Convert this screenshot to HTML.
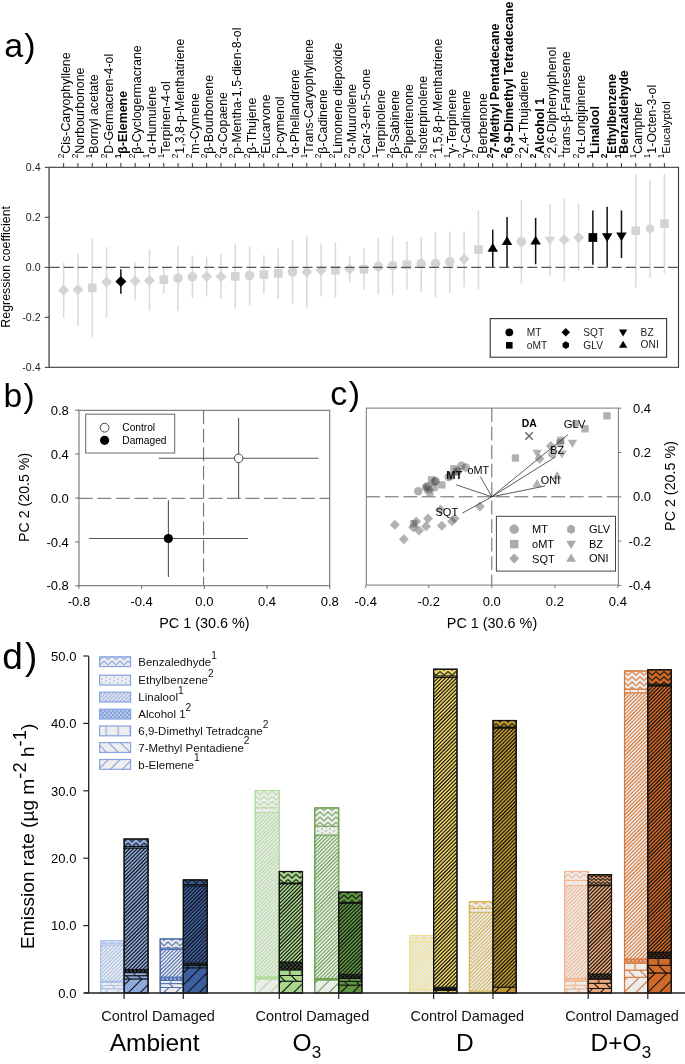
<!DOCTYPE html>
<html><head><meta charset="utf-8"><title>Figure</title>
<style>html,body{margin:0;padding:0;background:#fff;}body{width:685px;height:1064px;overflow:hidden;font-family:"Liberation Sans",sans-serif;}svg{display:block;will-change:transform;}</style>
</head><body>
<svg width="685" height="1064" viewBox="0 0 685 1064" font-family='"Liberation Sans", sans-serif'>
<rect width="685" height="1064" fill="#fff"/>
<text x="4.2" y="56.8" font-size="34">a<tspan dx="1.1">)</tspan></text>
<text transform="translate(69.85,158.3) rotate(-90)"><tspan font-size="8.4" dy="-6.2">2</tspan><tspan font-size="12.4" dy="6.2">Cis-Caryophyllene</tspan></text>
<text transform="translate(84.15,158.3) rotate(-90)"><tspan font-size="8.4" dy="-6.2">2</tspan><tspan font-size="12.4" dy="6.2">Norbourbonone</tspan></text>
<text transform="translate(98.46,158.3) rotate(-90)"><tspan font-size="8.4" dy="-6.2">1</tspan><tspan font-size="12.4" dy="6.2">Bornyl acetate</tspan></text>
<text transform="translate(112.76,158.3) rotate(-90)"><tspan font-size="8.4" dy="-6.2">2</tspan><tspan font-size="12.4" dy="6.2">D-Germacren-4-ol</tspan></text>
<text transform="translate(127.06,158.3) rotate(-90)" font-weight="bold"><tspan font-size="8.4" dy="-6.2">1</tspan><tspan font-size="12.4" dy="6.2">β-Elemene</tspan></text>
<text transform="translate(141.36,158.3) rotate(-90)"><tspan font-size="8.4" dy="-6.2">2</tspan><tspan font-size="12.4" dy="6.2">β-Cyclogermacrane</tspan></text>
<text transform="translate(155.67,158.3) rotate(-90)"><tspan font-size="8.4" dy="-6.2">1</tspan><tspan font-size="12.4" dy="6.2">α-Humulene</tspan></text>
<text transform="translate(169.97,158.3) rotate(-90)"><tspan font-size="8.4" dy="-6.2">1</tspan><tspan font-size="12.4" dy="6.2">Terpinen-4-ol</tspan></text>
<text transform="translate(184.27,158.3) rotate(-90)"><tspan font-size="8.4" dy="-6.2">2</tspan><tspan font-size="12.4" dy="6.2">1,3,8-p-Menthatriene</tspan></text>
<text transform="translate(198.58,158.3) rotate(-90)"><tspan font-size="8.4" dy="-6.2">2</tspan><tspan font-size="12.4" dy="6.2">m-Cymene</tspan></text>
<text transform="translate(212.88,158.3) rotate(-90)"><tspan font-size="8.4" dy="-6.2">2</tspan><tspan font-size="12.4" dy="6.2">β-Bourbonene</tspan></text>
<text transform="translate(227.18,158.3) rotate(-90)"><tspan font-size="8.4" dy="-6.2">2</tspan><tspan font-size="12.4" dy="6.2">α-Copaene</tspan></text>
<text transform="translate(241.49,158.3) rotate(-90)"><tspan font-size="8.4" dy="-6.2">2</tspan><tspan font-size="12.4" dy="6.2">p-Mentha-1,5-dien-8-ol</tspan></text>
<text transform="translate(255.79,158.3) rotate(-90)"><tspan font-size="8.4" dy="-6.2">2</tspan><tspan font-size="12.4" dy="6.2">β-Thujene</tspan></text>
<text transform="translate(270.09,158.3) rotate(-90)"><tspan font-size="8.4" dy="-6.2">2</tspan><tspan font-size="12.4" dy="6.2">Eucarvone</tspan></text>
<text transform="translate(284.39,158.3) rotate(-90)"><tspan font-size="8.4" dy="-6.2">2</tspan><tspan font-size="12.4" dy="6.2">p-cymenol</tspan></text>
<text transform="translate(298.7,158.3) rotate(-90)"><tspan font-size="8.4" dy="-6.2">1</tspan><tspan font-size="12.4" dy="6.2">α-Phellandrene</tspan></text>
<text transform="translate(313,158.3) rotate(-90)"><tspan font-size="8.4" dy="-6.2">1</tspan><tspan font-size="12.4" dy="6.2">Trans-Caryophyllene</tspan></text>
<text transform="translate(327.3,158.3) rotate(-90)"><tspan font-size="8.4" dy="-6.2">2</tspan><tspan font-size="12.4" dy="6.2">β-Cadinene</tspan></text>
<text transform="translate(341.61,158.3) rotate(-90)"><tspan font-size="8.4" dy="-6.2">2</tspan><tspan font-size="12.4" dy="6.2">Limonene diepoxide</tspan></text>
<text transform="translate(355.91,158.3) rotate(-90)"><tspan font-size="8.4" dy="-6.2">2</tspan><tspan font-size="12.4" dy="6.2">α-Muurolene</tspan></text>
<text transform="translate(370.21,158.3) rotate(-90)"><tspan font-size="8.4" dy="-6.2">2</tspan><tspan font-size="12.4" dy="6.2">Car-3-en-5-one</tspan></text>
<text transform="translate(384.52,158.3) rotate(-90)"><tspan font-size="8.4" dy="-6.2">1</tspan><tspan font-size="12.4" dy="6.2">Terpinolene</tspan></text>
<text transform="translate(398.82,158.3) rotate(-90)"><tspan font-size="8.4" dy="-6.2">2</tspan><tspan font-size="12.4" dy="6.2">β-Sabinene</tspan></text>
<text transform="translate(413.12,158.3) rotate(-90)"><tspan font-size="8.4" dy="-6.2">2</tspan><tspan font-size="12.4" dy="6.2">Piperitenone</tspan></text>
<text transform="translate(427.43,158.3) rotate(-90)"><tspan font-size="8.4" dy="-6.2">2</tspan><tspan font-size="12.4" dy="6.2">Isoterpinolene</tspan></text>
<text transform="translate(441.73,158.3) rotate(-90)"><tspan font-size="8.4" dy="-6.2">2</tspan><tspan font-size="12.4" dy="6.2">1,5,8-p-Menthatriene</tspan></text>
<text transform="translate(456.03,158.3) rotate(-90)"><tspan font-size="8.4" dy="-6.2">1</tspan><tspan font-size="12.4" dy="6.2">γ-Terpinene</tspan></text>
<text transform="translate(470.33,158.3) rotate(-90)"><tspan font-size="8.4" dy="-6.2">2</tspan><tspan font-size="12.4" dy="6.2">γ-Cadinene</tspan></text>
<text transform="translate(484.64,158.3) rotate(-90)"><tspan font-size="8.4" dy="-6.2">2</tspan><tspan font-size="12.4" dy="8.9">Berbenone</tspan></text>
<text transform="translate(498.94,158.3) rotate(-90)" font-weight="bold"><tspan font-size="8.4" dy="-6.2">2</tspan><tspan font-size="12.4" dy="6.2">7-Methyl Pentadecane</tspan></text>
<text transform="translate(513.24,158.3) rotate(-90)" font-weight="bold"><tspan font-size="8.4" dy="-6.2">2</tspan><tspan font-size="12.65" dy="6.2">6,9-Dimethyl Tetradecane</tspan></text>
<text transform="translate(527.55,158.3) rotate(-90)"><tspan font-size="8.4" dy="-6.2">2</tspan><tspan font-size="12.4" dy="6.2">2,4-Thujadiene</tspan></text>
<text transform="translate(541.85,158.3) rotate(-90)" font-weight="bold"><tspan font-size="8.4" dy="-6.2">2</tspan><tspan font-size="12.4" dy="8.8">Alcohol 1</tspan></text>
<text transform="translate(556.15,158.3) rotate(-90)"><tspan font-size="8.4" dy="-6.2">2</tspan><tspan font-size="12.4" dy="6.2">2,6-Diphenylphenol</tspan></text>
<text transform="translate(570.46,158.3) rotate(-90)"><tspan font-size="8.4" dy="-6.2">1</tspan><tspan font-size="12.4" dy="6.2">trans-β-Farnesene</tspan></text>
<text transform="translate(584.76,158.3) rotate(-90)"><tspan font-size="8.4" dy="-6.2">2</tspan><tspan font-size="12.4" dy="6.2">α-Longipinene</tspan></text>
<text transform="translate(599.06,158.3) rotate(-90)" font-weight="bold"><tspan font-size="8.4" dy="-6.2">1</tspan><tspan font-size="12.4" dy="6.2">Linalool</tspan></text>
<text transform="translate(613.36,158.3) rotate(-90)" font-weight="bold"><tspan font-size="8.4" dy="-6.2">2</tspan><tspan font-size="12.4" dy="9.2">Ethylbenzene</tspan></text>
<text transform="translate(627.67,158.3) rotate(-90)" font-weight="bold"><tspan font-size="8.4" dy="-6.2">1</tspan><tspan font-size="12.4" dy="6.2">Benzaldehyde</tspan></text>
<text transform="translate(641.97,158.3) rotate(-90)"><tspan font-size="8.4" dy="-6.2">1</tspan><tspan font-size="12.4" dy="6.2">Campher</tspan></text>
<text transform="translate(656.27,158.3) rotate(-90)"><tspan font-size="8.4" dy="-6.2">1</tspan><tspan font-size="12.4" dy="6.2">1-Octen-3-ol</tspan></text>
<text transform="translate(670.58,158.3) rotate(-90)"><tspan font-size="8.4" dy="-6.2">1</tspan><tspan font-size="11.35" dy="5.8">Eucalyptol</tspan></text>
<rect x="49.2" y="167.3" width="629.3" height="200" fill="none" stroke="#3a3a3a" stroke-width="1.1"/>
<line x1="49.2" y1="167.3" x2="49.2" y2="367.3" stroke="#7a7a7a" stroke-width="1.6"/>
<path d="M63.65 163V167.3M77.95 163V167.3M92.26 163V167.3M106.56 163V167.3M120.86 163V167.3M135.16 163V167.3M149.47 163V167.3M163.77 163V167.3M178.07 163V167.3M192.38 163V167.3M206.68 163V167.3M220.98 163V167.3M235.29 163V167.3M249.59 163V167.3M263.89 163V167.3M278.19 163V167.3M292.5 163V167.3M306.8 163V167.3M321.1 163V167.3M335.41 163V167.3M349.71 163V167.3M364.01 163V167.3M378.32 163V167.3M392.62 163V167.3M406.92 163V167.3M421.23 163V167.3M435.53 163V167.3M449.83 163V167.3M464.13 163V167.3M478.44 163V167.3M492.74 163V167.3M507.04 163V167.3M521.35 163V167.3M535.65 163V167.3M549.95 163V167.3M564.25 163V167.3M578.56 163V167.3M592.86 163V167.3M607.16 163V167.3M621.47 163V167.3M635.77 163V167.3M650.07 163V167.3M664.38 163V167.3" stroke="#333" stroke-width="1"/>
<line x1="44.8" y1="167.35" x2="49.2" y2="167.35" stroke="#333" stroke-width="1"/>
<text x="40.6" y="171.15" font-size="10.6" text-anchor="end" fill="#222">0.4</text>
<line x1="44.8" y1="217.35" x2="49.2" y2="217.35" stroke="#333" stroke-width="1"/>
<text x="40.6" y="221.15" font-size="10.6" text-anchor="end" fill="#222">0.2</text>
<line x1="44.8" y1="267.35" x2="49.2" y2="267.35" stroke="#333" stroke-width="1"/>
<text x="40.6" y="271.15" font-size="10.6" text-anchor="end" fill="#222">0.0</text>
<line x1="44.8" y1="317.35" x2="49.2" y2="317.35" stroke="#333" stroke-width="1"/>
<text x="40.6" y="321.15" font-size="10.6" text-anchor="end" fill="#222">-0.2</text>
<line x1="44.8" y1="367.35" x2="49.2" y2="367.35" stroke="#333" stroke-width="1"/>
<text x="40.6" y="371.15" font-size="10.6" text-anchor="end" fill="#222">-0.4</text>
<text transform="translate(10.3,266.8) rotate(-90)" font-size="12.4" text-anchor="middle">Regression coefficient</text>
<line x1="63.65" y1="263" x2="63.65" y2="318.4" stroke="#d9d9d9" stroke-width="1.5"/>
<line x1="77.95" y1="253.8" x2="77.95" y2="325.9" stroke="#d9d9d9" stroke-width="1.5"/>
<line x1="92.26" y1="238.9" x2="92.26" y2="336.8" stroke="#d9d9d9" stroke-width="1.5"/>
<line x1="106.56" y1="247" x2="106.56" y2="317.9" stroke="#d9d9d9" stroke-width="1.5"/>
<line x1="120.86" y1="269.3" x2="120.86" y2="293.8" stroke="#111" stroke-width="1.5"/>
<line x1="135.16" y1="262.5" x2="135.16" y2="299.6" stroke="#d9d9d9" stroke-width="1.5"/>
<line x1="149.47" y1="249.6" x2="149.47" y2="310.9" stroke="#d9d9d9" stroke-width="1.5"/>
<line x1="163.77" y1="267.5" x2="163.77" y2="293.4" stroke="#d9d9d9" stroke-width="1.5"/>
<line x1="178.07" y1="246" x2="178.07" y2="310.9" stroke="#d9d9d9" stroke-width="1.5"/>
<line x1="192.38" y1="255.5" x2="192.38" y2="297.9" stroke="#d9d9d9" stroke-width="1.5"/>
<line x1="206.68" y1="256.8" x2="206.68" y2="296.4" stroke="#d9d9d9" stroke-width="1.5"/>
<line x1="220.98" y1="253.6" x2="220.98" y2="298.8" stroke="#d9d9d9" stroke-width="1.5"/>
<line x1="235.29" y1="243.8" x2="235.29" y2="308.6" stroke="#d9d9d9" stroke-width="1.5"/>
<line x1="249.59" y1="246" x2="249.59" y2="305" stroke="#d9d9d9" stroke-width="1.5"/>
<line x1="263.89" y1="255" x2="263.89" y2="293.8" stroke="#d9d9d9" stroke-width="1.5"/>
<line x1="278.19" y1="248.2" x2="278.19" y2="298.8" stroke="#d9d9d9" stroke-width="1.5"/>
<line x1="292.5" y1="239.8" x2="292.5" y2="303.8" stroke="#d9d9d9" stroke-width="1.5"/>
<line x1="306.8" y1="236.3" x2="306.8" y2="307.7" stroke="#d9d9d9" stroke-width="1.5"/>
<line x1="321.1" y1="243.4" x2="321.1" y2="296.4" stroke="#d9d9d9" stroke-width="1.5"/>
<line x1="335.41" y1="242.5" x2="335.41" y2="297.3" stroke="#d9d9d9" stroke-width="1.5"/>
<line x1="349.71" y1="255.9" x2="349.71" y2="282.7" stroke="#d9d9d9" stroke-width="1.5"/>
<line x1="364.01" y1="248.4" x2="364.01" y2="289.8" stroke="#d9d9d9" stroke-width="1.5"/>
<line x1="378.32" y1="238" x2="378.32" y2="294.6" stroke="#d9d9d9" stroke-width="1.5"/>
<line x1="392.62" y1="236.3" x2="392.62" y2="295.2" stroke="#d9d9d9" stroke-width="1.5"/>
<line x1="406.92" y1="241" x2="406.92" y2="289.8" stroke="#d9d9d9" stroke-width="1.5"/>
<line x1="421.23" y1="237.1" x2="421.23" y2="292" stroke="#d9d9d9" stroke-width="1.5"/>
<line x1="435.53" y1="231.8" x2="435.53" y2="297.3" stroke="#d9d9d9" stroke-width="1.5"/>
<line x1="449.83" y1="231.8" x2="449.83" y2="293" stroke="#d9d9d9" stroke-width="1.5"/>
<line x1="464.13" y1="231.4" x2="464.13" y2="287.1" stroke="#d9d9d9" stroke-width="1.5"/>
<line x1="478.44" y1="210.4" x2="478.44" y2="289.3" stroke="#d9d9d9" stroke-width="1.5"/>
<line x1="492.74" y1="229.6" x2="492.74" y2="267.5" stroke="#111" stroke-width="1.5"/>
<line x1="507.04" y1="217.1" x2="507.04" y2="267.5" stroke="#111" stroke-width="1.5"/>
<line x1="521.35" y1="200.5" x2="521.35" y2="283.6" stroke="#d9d9d9" stroke-width="1.5"/>
<line x1="535.65" y1="217.9" x2="535.65" y2="264.3" stroke="#111" stroke-width="1.5"/>
<line x1="549.95" y1="204" x2="549.95" y2="275.5" stroke="#d9d9d9" stroke-width="1.5"/>
<line x1="564.25" y1="198.4" x2="564.25" y2="281.3" stroke="#d9d9d9" stroke-width="1.5"/>
<line x1="578.56" y1="204.1" x2="578.56" y2="271" stroke="#d9d9d9" stroke-width="1.5"/>
<line x1="592.86" y1="210.4" x2="592.86" y2="264.8" stroke="#111" stroke-width="1.5"/>
<line x1="607.16" y1="206.8" x2="607.16" y2="267" stroke="#111" stroke-width="1.5"/>
<line x1="621.47" y1="210.4" x2="621.47" y2="258" stroke="#111" stroke-width="1.5"/>
<line x1="635.77" y1="174.2" x2="635.77" y2="287.4" stroke="#d9d9d9" stroke-width="1.5"/>
<line x1="650.07" y1="179.4" x2="650.07" y2="278" stroke="#d9d9d9" stroke-width="1.5"/>
<line x1="664.38" y1="173.8" x2="664.38" y2="273" stroke="#d9d9d9" stroke-width="1.5"/>
<polygon points="63.65,284.7 69.15,290.2 63.65,295.7 58.15,290.2" fill="#d4d4d4"/>
<polygon points="77.95,284.3 83.45,289.8 77.95,295.3 72.45,289.8" fill="#d4d4d4"/>
<rect x="87.91" y="283.55" width="8.7" height="8.7" fill="#d4d4d4"/>
<polygon points="106.56,276.5 112.06,282 106.56,287.5 101.06,282" fill="#d4d4d4"/>
<polygon points="120.86,276.1 126.36,281.6 120.86,287.1 115.36,281.6" fill="#000"/>
<polygon points="135.16,275.4 140.66,280.9 135.16,286.4 129.66,280.9" fill="#d4d4d4"/>
<polygon points="149.47,274.9 154.97,280.4 149.47,285.9 143.97,280.4" fill="#d4d4d4"/>
<rect x="159.42" y="275.25" width="8.7" height="8.7" fill="#d4d4d4"/>
<circle cx="178.07" cy="278.2" r="4.8" fill="#d4d4d4"/>
<circle cx="192.38" cy="276.8" r="4.8" fill="#d4d4d4"/>
<polygon points="206.68,270.9 212.18,276.4 206.68,281.9 201.18,276.4" fill="#d4d4d4"/>
<polygon points="220.98,270.9 226.48,276.4 220.98,281.9 215.48,276.4" fill="#d4d4d4"/>
<rect x="230.94" y="272.05" width="8.7" height="8.7" fill="#d4d4d4"/>
<circle cx="249.59" cy="275.5" r="4.8" fill="#d4d4d4"/>
<rect x="259.54" y="270.25" width="8.7" height="8.7" fill="#d4d4d4"/>
<rect x="273.84" y="269.05" width="8.7" height="8.7" fill="#d4d4d4"/>
<circle cx="292.5" cy="272" r="4.8" fill="#d4d4d4"/>
<polygon points="306.8,266.5 312.3,272 306.8,277.5 301.3,272" fill="#d4d4d4"/>
<polygon points="321.1,264.7 326.6,270.2 321.1,275.7 315.6,270.2" fill="#d4d4d4"/>
<rect x="331.06" y="265.85" width="8.7" height="8.7" fill="#d4d4d4"/>
<polygon points="349.71,263.8 355.21,269.3 349.71,274.8 344.21,269.3" fill="#d4d4d4"/>
<rect x="359.66" y="264.95" width="8.7" height="8.7" fill="#d4d4d4"/>
<circle cx="378.32" cy="266.6" r="4.8" fill="#d4d4d4"/>
<circle cx="392.62" cy="265.7" r="4.8" fill="#d4d4d4"/>
<rect x="402.57" y="260.45" width="8.7" height="8.7" fill="#d4d4d4"/>
<circle cx="421.23" cy="263.9" r="4.8" fill="#d4d4d4"/>
<circle cx="435.53" cy="263.6" r="4.8" fill="#d4d4d4"/>
<circle cx="449.83" cy="261.8" r="4.8" fill="#d4d4d4"/>
<polygon points="464.13,253.6 469.63,259.1 464.13,264.6 458.63,259.1" fill="#d4d4d4"/>
<rect x="474.09" y="245.25" width="8.7" height="8.7" fill="#d4d4d4"/>
<polygon points="492.74,242.9 497.99,251.65 487.49,251.65" fill="#000"/>
<polygon points="507.04,236.3 512.29,245.05 501.79,245.05" fill="#000"/>
<circle cx="521.35" cy="241.6" r="4.8" fill="#d4d4d4"/>
<polygon points="535.65,235.7 540.9,244.45 530.4,244.45" fill="#000"/>
<polygon points="549.95,245.5 555.2,236.75 544.7,236.75" fill="#d4d4d4"/>
<polygon points="564.25,234.3 569.75,239.8 564.25,245.3 558.75,239.8" fill="#d4d4d4"/>
<polygon points="578.56,232 584.06,237.5 578.56,243 573.06,237.5" fill="#d4d4d4"/>
<rect x="588.51" y="233.15" width="8.7" height="8.7" fill="#000"/>
<polygon points="607.16,242.1 612.41,233.35 601.91,233.35" fill="#000"/>
<polygon points="621.47,241.3 626.72,232.55 616.22,232.55" fill="#000"/>
<rect x="631.42" y="226.35" width="8.7" height="8.7" fill="#d4d4d4"/>
<polygon points="650.07,233.5 646.12,231.1 646.12,226.3 650.07,223.9 654.02,226.3 654.02,231.1" fill="#d4d4d4"/>
<rect x="660.03" y="219.25" width="8.7" height="8.7" fill="#d4d4d4"/>
<line x1="49.2" y1="267.35" x2="678.5" y2="267.35" stroke="#555" stroke-width="1.2" stroke-dasharray="10 4.05" stroke-dashoffset="-0.45"/>
<rect x="490.2" y="318.6" width="176.4" height="38.6" fill="#fff" stroke="#333" stroke-width="1.1"/>
<circle cx="509.3" cy="332.3" r="3.9" fill="#000"/>
<text x="526.8" y="335.9" font-size="10.2" fill="#222">MT</text>
<rect x="506" y="342" width="6.6" height="6.6" fill="#000"/>
<text x="526.8" y="348.9" font-size="10.2" fill="#222">oMT</text>
<polygon points="565.8,328 570.1,332.3 565.8,336.6 561.5,332.3" fill="#000"/>
<text x="583.3" y="335.9" font-size="10.2" fill="#222">SQT</text>
<polygon points="565.8,349 562.59,347.05 562.59,343.15 565.8,341.2 569.01,343.15 569.01,347.05" fill="#000"/>
<text x="583.3" y="348.7" font-size="10.2" fill="#222">GLV</text>
<polygon points="623.1,336.6 627.3,329.6 618.9,329.6" fill="#000"/>
<text x="640.6" y="336.2" font-size="10.2" fill="#222">BZ</text>
<polygon points="623.1,340.8 627.3,347.8 618.9,347.8" fill="#000"/>
<text x="640.6" y="348.4" font-size="10.2" fill="#222">ONI</text>
<text x="3.6" y="406.7" font-size="33.6">b<tspan dx="1.2">)</tspan></text>
<rect x="79" y="410.3" width="250.7" height="175.4" fill="none" stroke="#666" stroke-width="1"/>
<line x1="78.95" y1="585.7" x2="78.95" y2="588.9" stroke="#666" stroke-width="1"/>
<text x="78.95" y="606.2" font-size="13" text-anchor="middle">-0.8</text>
<line x1="75.3" y1="585.84" x2="79" y2="585.84" stroke="#666" stroke-width="1"/>
<text x="68.8" y="590.44" font-size="13" text-anchor="end">-0.8</text>
<line x1="141.65" y1="585.7" x2="141.65" y2="588.9" stroke="#666" stroke-width="1"/>
<text x="141.65" y="606.2" font-size="13" text-anchor="middle">-0.4</text>
<line x1="75.3" y1="541.92" x2="79" y2="541.92" stroke="#666" stroke-width="1"/>
<text x="68.8" y="546.52" font-size="13" text-anchor="end">-0.4</text>
<line x1="204.35" y1="585.7" x2="204.35" y2="588.9" stroke="#666" stroke-width="1"/>
<text x="204.35" y="606.2" font-size="13" text-anchor="middle">0.0</text>
<line x1="75.3" y1="498" x2="79" y2="498" stroke="#666" stroke-width="1"/>
<text x="68.8" y="502.6" font-size="13" text-anchor="end">0.0</text>
<line x1="267.05" y1="585.7" x2="267.05" y2="588.9" stroke="#666" stroke-width="1"/>
<text x="267.05" y="606.2" font-size="13" text-anchor="middle">0.4</text>
<line x1="75.3" y1="454.08" x2="79" y2="454.08" stroke="#666" stroke-width="1"/>
<text x="68.8" y="458.68" font-size="13" text-anchor="end">0.4</text>
<line x1="329.75" y1="585.7" x2="329.75" y2="588.9" stroke="#666" stroke-width="1"/>
<text x="329.75" y="606.2" font-size="13" text-anchor="middle">0.8</text>
<line x1="75.3" y1="410.16" x2="79" y2="410.16" stroke="#666" stroke-width="1"/>
<text x="68.8" y="414.76" font-size="13" text-anchor="end">0.8</text>
<text x="204.4" y="628.4" font-size="14.4" text-anchor="middle">PC 1 (30.6 %)</text>
<text transform="translate(28.6,497.4) rotate(-90)" font-size="14.2" text-anchor="middle">PC 2 (20.5 %)</text>
<line x1="79" y1="498.3" x2="329.7" y2="498.3" stroke="#666" stroke-width="1" stroke-dasharray="13.9 4.6"/>
<line x1="203.6" y1="410.3" x2="203.6" y2="585.7" stroke="#666" stroke-width="1" stroke-dasharray="13.9 4.6"/>
<path d="M158.8 458.3H318.5M238.6 418V498.6" stroke="#555" stroke-width="1.1" fill="none"/>
<path d="M89.1 538.5H247.8M168.4 500.2V576.9" stroke="#555" stroke-width="1.1" fill="none"/>
<circle cx="238.6" cy="458.3" r="4.3" fill="#fff" stroke="#444" stroke-width="1"/>
<circle cx="168.4" cy="538.5" r="4.6" fill="#000"/>
<rect x="85.7" y="414.2" width="89" height="38.8" fill="#fff" stroke="#666" stroke-width="1"/>
<circle cx="104.6" cy="427.7" r="4.4" fill="#fff" stroke="#444" stroke-width="1"/>
<circle cx="104.6" cy="440.3" r="4.6" fill="#000"/>
<text x="122.3" y="431.4" font-size="10.2">Control</text>
<text x="122.3" y="443.8" font-size="10.2">Damaged</text>
<text x="330.2" y="405.3" font-size="34">c<tspan dx="1.6">)</tspan></text>
<rect x="366.3" y="408.1" width="252.1" height="177" fill="none" stroke="#777" stroke-width="1"/>
<line x1="365.7" y1="585.1" x2="365.7" y2="588.1" stroke="#777" stroke-width="1"/>
<text x="365.7" y="605.6" font-size="13" text-anchor="middle">-0.4</text>
<line x1="618.4" y1="585.4" x2="621.4" y2="585.4" stroke="#777" stroke-width="1"/>
<text x="651" y="590" font-size="13" text-anchor="end">-0.4</text>
<line x1="428.75" y1="585.1" x2="428.75" y2="588.1" stroke="#777" stroke-width="1"/>
<text x="428.75" y="605.6" font-size="13" text-anchor="middle">-0.2</text>
<line x1="618.4" y1="541.1" x2="621.4" y2="541.1" stroke="#777" stroke-width="1"/>
<text x="651" y="545.7" font-size="13" text-anchor="end">-0.2</text>
<line x1="491.8" y1="585.1" x2="491.8" y2="588.1" stroke="#777" stroke-width="1"/>
<text x="491.8" y="605.6" font-size="13" text-anchor="middle">0.0</text>
<line x1="618.4" y1="496.8" x2="621.4" y2="496.8" stroke="#777" stroke-width="1"/>
<text x="651" y="501.4" font-size="13" text-anchor="end">0.0</text>
<line x1="554.85" y1="585.1" x2="554.85" y2="588.1" stroke="#777" stroke-width="1"/>
<text x="554.85" y="605.6" font-size="13" text-anchor="middle">0.2</text>
<line x1="618.4" y1="452.5" x2="621.4" y2="452.5" stroke="#777" stroke-width="1"/>
<text x="651" y="457.1" font-size="13" text-anchor="end">0.2</text>
<line x1="617.9" y1="585.1" x2="617.9" y2="588.1" stroke="#777" stroke-width="1"/>
<text x="617.9" y="605.6" font-size="13" text-anchor="middle">0.4</text>
<line x1="618.4" y1="408.2" x2="621.4" y2="408.2" stroke="#777" stroke-width="1"/>
<text x="651" y="412.8" font-size="13" text-anchor="end">0.4</text>
<text x="492" y="628.4" font-size="14.4" text-anchor="middle">PC 1 (30.6 %)</text>
<text transform="translate(675.3,486) rotate(-90)" font-size="14.3" text-anchor="middle">PC 2 (20.5 %)</text>
<line x1="366.3" y1="496.8" x2="618.4" y2="496.8" stroke="#666" stroke-width="1" stroke-dasharray="13.9 4.6"/>
<line x1="491.8" y1="408.1" x2="491.8" y2="585.1" stroke="#666" stroke-width="1" stroke-dasharray="13.9 4.6"/>
<circle cx="418.2" cy="491.3" r="4.2" fill="#3c3c3c" fill-opacity="0.4"/>
<circle cx="426" cy="487.4" r="4.2" fill="#3c3c3c" fill-opacity="0.4"/>
<circle cx="427.2" cy="486.3" r="4.2" fill="#3c3c3c" fill-opacity="0.4"/>
<circle cx="434.5" cy="481.8" r="4.2" fill="#3c3c3c" fill-opacity="0.4"/>
<circle cx="435.6" cy="481" r="4.2" fill="#3c3c3c" fill-opacity="0.4"/>
<rect x="438.15" y="481.25" width="7.3" height="7.3" fill="#3c3c3c" fill-opacity="0.4"/>
<rect x="426.25" y="488.55" width="7.3" height="7.3" fill="#3c3c3c" fill-opacity="0.4"/>
<rect x="430.35" y="483.85" width="7.3" height="7.3" fill="#3c3c3c" fill-opacity="0.4"/>
<rect x="424.35" y="485.85" width="7.3" height="7.3" fill="#3c3c3c" fill-opacity="0.4"/>
<rect x="427.85" y="476.15" width="7.3" height="7.3" fill="#3c3c3c" fill-opacity="0.4"/>
<circle cx="461.5" cy="465.7" r="4.2" fill="#3c3c3c" fill-opacity="0.4"/>
<circle cx="465.8" cy="467.5" r="4.2" fill="#3c3c3c" fill-opacity="0.4"/>
<circle cx="448.7" cy="477" r="4.2" fill="#3c3c3c" fill-opacity="0.4"/>
<circle cx="450.5" cy="476" r="4.2" fill="#3c3c3c" fill-opacity="0.4"/>
<rect x="450.15" y="465.15" width="7.3" height="7.3" fill="#3c3c3c" fill-opacity="0.4"/>
<rect x="453.25" y="468.25" width="7.3" height="7.3" fill="#3c3c3c" fill-opacity="0.4"/>
<circle cx="457.5" cy="471" r="4.2" fill="#3c3c3c" fill-opacity="0.4"/>
<polygon points="394.8,519.7 399.8,524.7 394.8,529.7 389.8,524.7" fill="#3c3c3c" fill-opacity="0.4"/>
<polygon points="403.8,534.2 408.8,539.2 403.8,544.2 398.8,539.2" fill="#3c3c3c" fill-opacity="0.4"/>
<polygon points="416.2,516.4 421.2,521.4 416.2,526.4 411.2,521.4" fill="#3c3c3c" fill-opacity="0.4"/>
<rect x="410.15" y="520.05" width="7.3" height="7.3" fill="#3c3c3c" fill-opacity="0.4"/>
<polygon points="413.2,522.3 418.2,527.3 413.2,532.3 408.2,527.3" fill="#3c3c3c" fill-opacity="0.4"/>
<polygon points="419,525.5 424,530.5 419,535.5 414,530.5" fill="#3c3c3c" fill-opacity="0.4"/>
<polygon points="428,513.4 433,518.4 428,523.4 423,518.4" fill="#3c3c3c" fill-opacity="0.4"/>
<polygon points="426,521.3 431,526.3 426,531.3 421,526.3" fill="#3c3c3c" fill-opacity="0.4"/>
<polygon points="441.8,520.8 446.8,525.8 441.8,530.8 436.8,525.8" fill="#3c3c3c" fill-opacity="0.4"/>
<polygon points="452,516.2 457,521.2 452,526.2 447,521.2" fill="#3c3c3c" fill-opacity="0.4"/>
<polygon points="454.6,513.6 459.6,518.6 454.6,523.6 449.6,518.6" fill="#3c3c3c" fill-opacity="0.4"/>
<polygon points="440.4,504.6 445.4,509.6 440.4,514.6 435.4,509.6" fill="#3c3c3c" fill-opacity="0.4"/>
<polygon points="479.9,501.6 484.9,506.6 479.9,511.6 474.9,506.6" fill="#3c3c3c" fill-opacity="0.4"/>
<rect x="603.35" y="412.25" width="7.3" height="7.3" fill="#3c3c3c" fill-opacity="0.4"/>
<rect x="581.35" y="425.15" width="7.3" height="7.3" fill="#3c3c3c" fill-opacity="0.4"/>
<polygon points="575.7,427.8 572.16,425.65 572.16,421.35 575.7,419.2 579.24,421.35 579.24,425.65" fill="#3c3c3c" fill-opacity="0.4"/>
<rect x="557.25" y="436.65" width="7.3" height="7.3" fill="#3c3c3c" fill-opacity="0.4"/>
<rect x="556.35" y="439.35" width="7.3" height="7.3" fill="#3c3c3c" fill-opacity="0.4"/>
<polygon points="572.4,447.8 577.23,439.75 567.57,439.75" fill="#3c3c3c" fill-opacity="0.4"/>
<polygon points="550.8,441 555.8,446 550.8,451 545.8,446" fill="#3c3c3c" fill-opacity="0.4"/>
<circle cx="552.4" cy="454" r="4.2" fill="#3c3c3c" fill-opacity="0.4"/>
<polygon points="562,458.6 566.83,450.55 557.17,450.55" fill="#3c3c3c" fill-opacity="0.4"/>
<polygon points="537.1,457.8 541.93,449.75 532.27,449.75" fill="#3c3c3c" fill-opacity="0.4"/>
<polygon points="539.5,453.8 544.5,458.8 539.5,463.8 534.5,458.8" fill="#3c3c3c" fill-opacity="0.4"/>
<rect x="511.75" y="454.35" width="7.3" height="7.3" fill="#3c3c3c" fill-opacity="0.4"/>
<polygon points="537.1,479.1 541.93,487.15 532.27,487.15" fill="#3c3c3c" fill-opacity="0.4"/>
<polygon points="557.2,471.1 562.03,479.15 552.37,479.15" fill="#3c3c3c" fill-opacity="0.4"/>
<path d="M525.4 432.3L532.8 439.7M532.8 432.3L525.4 439.7" stroke="#6a6a6a" stroke-width="1.6"/>
<path d="M491.8 496.8L456.2 484.8M491.8 496.8L480.3 476.5M491.8 496.8L462.3 513.1M491.8 496.8L567.8 434.7M491.8 496.8L555.5 456.9M491.8 496.8L545 486" stroke="#333" stroke-width="0.8" fill="none"/>
<text x="446.3" y="479.4" font-size="11.2" font-weight="bold" fill="#111">MT</text>
<text x="467.6" y="474.2" font-size="10.8">oMT</text>
<text x="435.5" y="516.3" font-size="11">SQT</text>
<text x="521.8" y="426.7" font-size="10.4" font-weight="bold">DA</text>
<text x="563.8" y="427.9" font-size="11.2">GLV</text>
<text x="550.2" y="453.7" font-size="10.8">BZ</text>
<text x="540.8" y="483.5" font-size="10.9">ONI</text>
<rect x="496.4" y="516.3" width="119.1" height="54.8" fill="#fff" stroke="#444" stroke-width="1"/>
<circle cx="514.2" cy="529.3" r="4.7" fill="#aaa"/>
<text x="532.1" y="533.2" font-size="11" >MT</text>
<rect x="510" y="539.9" width="8.4" height="8.4" fill="#aaa"/>
<text x="532.1" y="548" font-size="11" >oMT</text>
<polygon points="514.2,553.6 519.2,558.6 514.2,563.6 509.2,558.6" fill="#aaa"/>
<text x="532.1" y="562.5" font-size="11" >SQT</text>
<polygon points="571.1,534 567.23,531.65 567.23,526.95 571.1,524.6 574.97,526.95 574.97,531.65" fill="#aaa"/>
<text x="589" y="533.2" font-size="11" >GLV</text>
<polygon points="571.1,549 576.03,540.77 566.17,540.77" fill="#aaa"/>
<text x="589" y="548.2" font-size="11" >BZ</text>
<polygon points="571.1,553.5 576.03,561.73 566.17,561.73" fill="#aaa"/>
<text x="589" y="562.1" font-size="11" >ONI</text>
<text x="2.3" y="668.8" font-size="37">d<tspan dx="2.2">)</tspan></text>
<line x1="88.7" y1="656.2" x2="88.7" y2="993" stroke="#222" stroke-width="1.3"/>
<line x1="83.3" y1="993" x2="88.7" y2="993" stroke="#222" stroke-width="1.2"/>
<text x="76.4" y="997.7" font-size="13" text-anchor="end">0.0</text>
<line x1="83.3" y1="925.6" x2="88.7" y2="925.6" stroke="#222" stroke-width="1.2"/>
<text x="76.4" y="930.3" font-size="13" text-anchor="end">10.0</text>
<line x1="83.3" y1="858.2" x2="88.7" y2="858.2" stroke="#222" stroke-width="1.2"/>
<text x="76.4" y="862.9" font-size="13" text-anchor="end">20.0</text>
<line x1="83.3" y1="790.8" x2="88.7" y2="790.8" stroke="#222" stroke-width="1.2"/>
<text x="76.4" y="795.5" font-size="13" text-anchor="end">30.0</text>
<line x1="83.3" y1="723.4" x2="88.7" y2="723.4" stroke="#222" stroke-width="1.2"/>
<text x="76.4" y="728.1" font-size="13" text-anchor="end">40.0</text>
<line x1="83.3" y1="656" x2="88.7" y2="656" stroke="#222" stroke-width="1.2"/>
<text x="76.4" y="660.7" font-size="13" text-anchor="end">50.0</text>
<text transform="translate(33.6,948.9) rotate(-90)" font-size="19.1">Emission rate (µg m<tspan font-size="18.4" dy="-7.6">-2</tspan><tspan dy="7.6"> h</tspan><tspan font-size="18.4" dy="-7.6">-1</tspan><tspan dy="7.6">)</tspan></text>
<defs><pattern id="p0" patternUnits="userSpaceOnUse" width="8" height="5.2"><path d="M0 0.7L4 4.5L8 0.7" stroke="#86a4e0" stroke-width="1.1" fill="none"/></pattern><pattern id="p1" patternUnits="userSpaceOnUse" width="8" height="4"><circle cx="2" cy="1" r="0.7" fill="#86a4e0"/><circle cx="6" cy="3" r="0.7" fill="#86a4e0"/></pattern><pattern id="p2" patternUnits="userSpaceOnUse" width="3.75" height="3.75"><path d="M-1 1L1 -1M0 3.75L3.75 0M2.75 4.75L4.75 2.75" stroke="#86a4e0" stroke-width="1.1"/></pattern><pattern id="p3" patternUnits="userSpaceOnUse" width="4" height="4"><rect width="4" height="4" fill="#86a4e0"/><circle cx="1" cy="1" r="0.8" fill="#eeeeee"/><circle cx="3" cy="3" r="0.8" fill="#eeeeee"/></pattern><pattern id="p4" patternUnits="userSpaceOnUse" width="12" height="12" patternTransform="translate(100.2 0)"><path d="M6 0V12" stroke="#86a4e0" stroke-width="1.1"/></pattern><pattern id="p5" patternUnits="userSpaceOnUse" width="12" height="12" patternTransform="translate(105.1 0)"><path d="M6 0V12" stroke="#a9c0ea" stroke-width="1.1"/></pattern><pattern id="p6" patternUnits="userSpaceOnUse" width="4" height="4"><rect width="4" height="4" fill="#a9c0ea"/><circle cx="1" cy="1" r="0.8" fill="#ececec"/><circle cx="3" cy="3" r="0.8" fill="#ececec"/></pattern><pattern id="p7" patternUnits="userSpaceOnUse" width="8" height="4"><circle cx="2" cy="1" r="0.7" fill="#a9c0ea"/><circle cx="6" cy="3" r="0.7" fill="#a9c0ea"/></pattern><pattern id="p8" patternUnits="userSpaceOnUse" width="8" height="5.2"><path d="M0 0.7L4 4.5L8 0.7" stroke="#a9c0ea" stroke-width="1.1" fill="none"/></pattern><pattern id="p9" patternUnits="userSpaceOnUse" width="12" height="12" patternTransform="translate(128.6 0)"><path d="M6 0V12" stroke="#111" stroke-width="1.1"/></pattern><pattern id="p10" patternUnits="userSpaceOnUse" width="4" height="4"><rect width="4" height="4" fill="#111"/><circle cx="1" cy="1" r="0.6" fill="#8eaadd"/><circle cx="3" cy="3" r="0.6" fill="#8eaadd"/></pattern><pattern id="p11" patternUnits="userSpaceOnUse" width="8" height="4"><circle cx="2" cy="1" r="0.7" fill="#111"/><circle cx="6" cy="3" r="0.7" fill="#111"/></pattern><pattern id="p12" patternUnits="userSpaceOnUse" width="8" height="5.2"><path d="M0 0.7L4 4.5L8 0.7" stroke="#111" stroke-width="1.1" fill="none"/></pattern><pattern id="p13" patternUnits="userSpaceOnUse" width="12" height="12" patternTransform="translate(164.7 0)"><path d="M6 0V12" stroke="#4e6fb0" stroke-width="1.1"/></pattern><pattern id="p14" patternUnits="userSpaceOnUse" width="4" height="4"><rect width="4" height="4" fill="#4e6fb0"/><circle cx="1" cy="1" r="0.8" fill="#ececec"/><circle cx="3" cy="3" r="0.8" fill="#ececec"/></pattern><pattern id="p15" patternUnits="userSpaceOnUse" width="8" height="4"><circle cx="2" cy="1" r="0.7" fill="#4e6fb0"/><circle cx="6" cy="3" r="0.7" fill="#4e6fb0"/></pattern><pattern id="p16" patternUnits="userSpaceOnUse" width="8" height="5.2"><path d="M0 0.7L4 4.5L8 0.7" stroke="#4e6fb0" stroke-width="1.1" fill="none"/></pattern><pattern id="p17" patternUnits="userSpaceOnUse" width="12" height="12" patternTransform="translate(187.8 0)"><path d="M6 0V12" stroke="#111" stroke-width="1.1"/></pattern><pattern id="p18" patternUnits="userSpaceOnUse" width="8" height="4"><circle cx="2" cy="1" r="0.7" fill="#111"/><circle cx="6" cy="3" r="0.7" fill="#111"/></pattern><pattern id="p19" patternUnits="userSpaceOnUse" width="8" height="5.2"><path d="M0 0.7L4 4.5L8 0.7" stroke="#111" stroke-width="1.1" fill="none"/></pattern><pattern id="p20" patternUnits="userSpaceOnUse" width="12" height="12" patternTransform="translate(259.7 0)"><path d="M6 0V12" stroke="#b2dca0" stroke-width="1.1"/></pattern><pattern id="p21" patternUnits="userSpaceOnUse" width="4" height="4"><rect width="4" height="4" fill="#b2dca0"/><circle cx="1" cy="1" r="0.8" fill="#ececec"/><circle cx="3" cy="3" r="0.8" fill="#ececec"/></pattern><pattern id="p22" patternUnits="userSpaceOnUse" width="8" height="4"><circle cx="2" cy="1" r="0.7" fill="#b2dca0"/><circle cx="6" cy="3" r="0.7" fill="#b2dca0"/></pattern><pattern id="p23" patternUnits="userSpaceOnUse" width="8" height="5.2"><path d="M0 0.7L4 4.5L8 0.7" stroke="#b2dca0" stroke-width="1.1" fill="none"/></pattern><pattern id="p24" patternUnits="userSpaceOnUse" width="12" height="12" patternTransform="translate(283.8 0)"><path d="M6 0V12" stroke="#111" stroke-width="1.1"/></pattern><pattern id="p25" patternUnits="userSpaceOnUse" width="4" height="4"><rect width="4" height="4" fill="#111"/><circle cx="1" cy="1" r="0.6" fill="#a8d68c"/><circle cx="3" cy="3" r="0.6" fill="#a8d68c"/></pattern><pattern id="p26" patternUnits="userSpaceOnUse" width="8" height="4"><circle cx="2" cy="1" r="0.7" fill="#111"/><circle cx="6" cy="3" r="0.7" fill="#111"/></pattern><pattern id="p27" patternUnits="userSpaceOnUse" width="8" height="5.2"><path d="M0 0.7L4 4.5L8 0.7" stroke="#111" stroke-width="1.1" fill="none"/></pattern><pattern id="p28" patternUnits="userSpaceOnUse" width="12" height="12" patternTransform="translate(319.3 0)"><path d="M6 0V12" stroke="#6ea454" stroke-width="1.1"/></pattern><pattern id="p29" patternUnits="userSpaceOnUse" width="4" height="4"><rect width="4" height="4" fill="#6ea454"/><circle cx="1" cy="1" r="0.8" fill="#ececec"/><circle cx="3" cy="3" r="0.8" fill="#ececec"/></pattern><pattern id="p30" patternUnits="userSpaceOnUse" width="8" height="4"><circle cx="2" cy="1" r="0.7" fill="#6ea454"/><circle cx="6" cy="3" r="0.7" fill="#6ea454"/></pattern><pattern id="p31" patternUnits="userSpaceOnUse" width="8" height="5.2"><path d="M0 0.7L4 4.5L8 0.7" stroke="#6ea454" stroke-width="1.1" fill="none"/></pattern><pattern id="p32" patternUnits="userSpaceOnUse" width="12" height="12" patternTransform="translate(343.2 0)"><path d="M6 0V12" stroke="#111" stroke-width="1.1"/></pattern><pattern id="p33" patternUnits="userSpaceOnUse" width="4" height="4"><rect width="4" height="4" fill="#111"/><circle cx="1" cy="1" r="0.6" fill="#5e9640"/><circle cx="3" cy="3" r="0.6" fill="#5e9640"/></pattern><pattern id="p34" patternUnits="userSpaceOnUse" width="8" height="4"><circle cx="2" cy="1" r="0.7" fill="#111"/><circle cx="6" cy="3" r="0.7" fill="#111"/></pattern><pattern id="p35" patternUnits="userSpaceOnUse" width="8" height="5.2"><path d="M0 0.7L4 4.5L8 0.7" stroke="#111" stroke-width="1.1" fill="none"/></pattern><pattern id="p36" patternUnits="userSpaceOnUse" width="8" height="4"><circle cx="2" cy="1" r="0.7" fill="#f0e08a"/><circle cx="6" cy="3" r="0.7" fill="#f0e08a"/></pattern><pattern id="p37" patternUnits="userSpaceOnUse" width="8" height="5.2"><path d="M0 0.7L4 4.5L8 0.7" stroke="#f0e08a" stroke-width="1.1" fill="none"/></pattern><pattern id="p38" patternUnits="userSpaceOnUse" width="8" height="4"><circle cx="2" cy="1" r="0.7" fill="#111"/><circle cx="6" cy="3" r="0.7" fill="#111"/></pattern><pattern id="p39" patternUnits="userSpaceOnUse" width="8" height="5.2"><path d="M0 0.7L4 4.5L8 0.7" stroke="#111" stroke-width="1.1" fill="none"/></pattern><pattern id="p40" patternUnits="userSpaceOnUse" width="8" height="4"><circle cx="2" cy="1" r="0.7" fill="#d6b65c"/><circle cx="6" cy="3" r="0.7" fill="#d6b65c"/></pattern><pattern id="p41" patternUnits="userSpaceOnUse" width="8" height="5.2"><path d="M0 0.7L4 4.5L8 0.7" stroke="#d6b65c" stroke-width="1.1" fill="none"/></pattern><pattern id="p42" patternUnits="userSpaceOnUse" width="8" height="4"><circle cx="2" cy="1" r="0.7" fill="#111"/><circle cx="6" cy="3" r="0.7" fill="#111"/></pattern><pattern id="p43" patternUnits="userSpaceOnUse" width="8" height="5.2"><path d="M0 0.7L4 4.5L8 0.7" stroke="#111" stroke-width="1.1" fill="none"/></pattern><pattern id="p44" patternUnits="userSpaceOnUse" width="12" height="12" patternTransform="translate(569.1 0)"><path d="M6 0V12" stroke="#f2b68e" stroke-width="1.1"/></pattern><pattern id="p45" patternUnits="userSpaceOnUse" width="4" height="4"><rect width="4" height="4" fill="#f2b68e"/><circle cx="1" cy="1" r="0.8" fill="#ececec"/><circle cx="3" cy="3" r="0.8" fill="#ececec"/></pattern><pattern id="p46" patternUnits="userSpaceOnUse" width="8" height="4"><circle cx="2" cy="1" r="0.7" fill="#f2b68e"/><circle cx="6" cy="3" r="0.7" fill="#f2b68e"/></pattern><pattern id="p47" patternUnits="userSpaceOnUse" width="8" height="5.2"><path d="M0 0.7L4 4.5L8 0.7" stroke="#f2b68e" stroke-width="1.1" fill="none"/></pattern><pattern id="p48" patternUnits="userSpaceOnUse" width="12" height="12" patternTransform="translate(592.7 0)"><path d="M6 0V12" stroke="#111" stroke-width="1.1"/></pattern><pattern id="p49" patternUnits="userSpaceOnUse" width="4" height="4"><rect width="4" height="4" fill="#111"/><circle cx="1" cy="1" r="0.6" fill="#eca878"/><circle cx="3" cy="3" r="0.6" fill="#eca878"/></pattern><pattern id="p50" patternUnits="userSpaceOnUse" width="8" height="4"><circle cx="2" cy="1" r="0.7" fill="#111"/><circle cx="6" cy="3" r="0.7" fill="#111"/></pattern><pattern id="p51" patternUnits="userSpaceOnUse" width="4.4" height="3.3"><path d="M0 0.4L2.2 2.9L4.4 0.4" stroke="#111" stroke-width="1.1" fill="none"/></pattern><pattern id="p52" patternUnits="userSpaceOnUse" width="12" height="12" patternTransform="translate(629 0)"><path d="M6 0V12" stroke="#d8783a" stroke-width="1.1"/></pattern><pattern id="p53" patternUnits="userSpaceOnUse" width="4" height="4"><rect width="4" height="4" fill="#d8783a"/><circle cx="1" cy="1" r="0.8" fill="#ececec"/><circle cx="3" cy="3" r="0.8" fill="#ececec"/></pattern><pattern id="p54" patternUnits="userSpaceOnUse" width="8" height="4"><circle cx="2" cy="1" r="0.7" fill="#d8783a"/><circle cx="6" cy="3" r="0.7" fill="#d8783a"/></pattern><pattern id="p55" patternUnits="userSpaceOnUse" width="8" height="5.2"><path d="M0 0.7L4 4.5L8 0.7" stroke="#d8783a" stroke-width="1.1" fill="none"/></pattern><pattern id="p56" patternUnits="userSpaceOnUse" width="12" height="12" patternTransform="translate(652.3 0)"><path d="M6 0V12" stroke="#111" stroke-width="1.1"/></pattern><pattern id="p57" patternUnits="userSpaceOnUse" width="4" height="4"><rect width="4" height="4" fill="#111"/><circle cx="1" cy="1" r="0.6" fill="#d06a28"/><circle cx="3" cy="3" r="0.6" fill="#d06a28"/></pattern><pattern id="p58" patternUnits="userSpaceOnUse" width="8" height="5.2"><path d="M0 0.7L4 4.5L8 0.7" stroke="#111" stroke-width="1.1" fill="none"/></pattern></defs>
<rect x="99.6" y="656.8" width="31" height="9.8" fill="#eeeeee"/>
<rect x="99.6" y="656.8" width="31" height="9.8" fill="url(#p0)" stroke="#86a4e0" stroke-width="1.2"/>
<text x="138.3" y="665.8" font-size="11.5" fill="#111">Benzaledhyde<tspan font-size="10.2" dy="-7.3">1</tspan></text>
<rect x="99.6" y="675.2" width="31" height="9.8" fill="#eeeeee"/>
<rect x="99.6" y="675.2" width="31" height="9.8" fill="url(#p1)" stroke="#86a4e0" stroke-width="1.2"/>
<text x="138.3" y="684.2" font-size="11.5" fill="#111">Ethylbenzene<tspan font-size="10.2" dy="-7.3">2</tspan></text>
<rect x="99.6" y="692.2" width="31" height="9.8" fill="#eeeeee"/>
<rect x="99.6" y="692.2" width="31" height="9.8" fill="url(#p2)" stroke="#86a4e0" stroke-width="1.2"/>
<text x="138.3" y="701.2" font-size="11.5" fill="#111">Linalool<tspan font-size="10.2" dy="-7.3">1</tspan></text>
<rect x="99.6" y="709.2" width="31" height="9.8" fill="#eeeeee"/>
<rect x="99.6" y="709.2" width="31" height="9.8" fill="url(#p3)" stroke="#86a4e0" stroke-width="1.2"/>
<text x="138.3" y="718.2" font-size="11.5" fill="#111">Alcohol 1<tspan font-size="10.2" dy="-7.3">2</tspan></text>
<rect x="99.6" y="726" width="31" height="9.8" fill="#eeeeee"/>
<rect x="99.6" y="726" width="31" height="9.8" fill="url(#p4)" stroke="#86a4e0" stroke-width="1.2"/>
<text x="138.3" y="735" font-size="11.5" fill="#111">6,9-Dimethyl Tetradcane<tspan font-size="10.2" dy="-7.3">2</tspan></text>
<rect x="99.6" y="742.6" width="31" height="9.8" fill="#eeeeee"/>
<clipPath id="c1"><rect x="99.6" y="742.6" width="31" height="9.8"/></clipPath>
<path d="M72.2 741.6L84 753.4M84 741.6L95.8 753.4M95.8 741.6L107.6 753.4M107.6 741.6L119.4 753.4M119.4 741.6L131.2 753.4M131.2 741.6L143 753.4" stroke="#86a4e0" stroke-width="1.1" clip-path="url(#c1)"/>
<rect x="99.6" y="742.6" width="31" height="9.8" fill="none" stroke="#86a4e0" stroke-width="1.2"/>
<text x="138.3" y="751.6" font-size="11.5" fill="#111">7-Methyl Pentadiene<tspan font-size="10.2" dy="-7.3">2</tspan></text>
<rect x="99.6" y="759.5" width="31" height="9.8" fill="#eeeeee"/>
<clipPath id="c2"><rect x="99.6" y="759.5" width="31" height="9.8"/></clipPath>
<path d="M74 770.3L85.8 758.5M85.8 770.3L97.6 758.5M97.6 770.3L109.4 758.5M109.4 770.3L121.2 758.5M121.2 770.3L133 758.5M133 770.3L144.8 758.5" stroke="#86a4e0" stroke-width="1.1" clip-path="url(#c2)"/>
<rect x="99.6" y="759.5" width="31" height="9.8" fill="none" stroke="#86a4e0" stroke-width="1.2"/>
<text x="138.3" y="768.5" font-size="11.5" fill="#111">b-Elemene<tspan font-size="10.2" dy="-7.3">1</tspan></text>
<rect x="100.6" y="988.7" width="23.5" height="4.3" fill="#ececec"/>
<clipPath id="c3"><rect x="100.6" y="988.7" width="23.5" height="4.3"/></clipPath>
<path d="M79.8 994L86.1 987.7M91.6 994L97.9 987.7M103.4 994L109.7 987.7M115.2 994L121.5 987.7M127 994L133.3 987.7" stroke="#a9c0ea" stroke-width="1.1" clip-path="url(#c3)"/>
<rect x="100.6" y="988.7" width="23.5" height="4.3" fill="none" stroke="#a9c0ea" stroke-width="1"/>
<rect x="100.6" y="985.5" width="23.5" height="3.2" fill="#ececec"/>
<clipPath id="c4"><rect x="100.6" y="985.5" width="23.5" height="3.2"/></clipPath>
<path d="M75.9 984.5L81.1 989.7M87.7 984.5L92.9 989.7M99.5 984.5L104.7 989.7M111.3 984.5L116.5 989.7M123.1 984.5L128.3 989.7M134.9 984.5L140.1 989.7" stroke="#a9c0ea" stroke-width="1.1" clip-path="url(#c4)"/>
<rect x="100.6" y="985.5" width="23.5" height="3.2" fill="none" stroke="#a9c0ea" stroke-width="1"/>
<rect x="100.6" y="982.5" width="23.5" height="3" fill="#ececec"/>
<rect x="100.6" y="982.5" width="23.5" height="3" fill="url(#p5)" stroke="#a9c0ea" stroke-width="1"/>
<rect x="100.6" y="981" width="23.5" height="1.5" fill="#ececec"/>
<rect x="100.6" y="981" width="23.5" height="1.5" fill="url(#p6)" stroke="#a9c0ea" stroke-width="1"/>
<rect x="100.6" y="945" width="23.5" height="36" fill="#ececec"/>
<clipPath id="c5"><rect x="100.6" y="945" width="23.5" height="36"/></clipPath>
<path d="M59.6 982L97.6 944M63.32 982L101.32 944M67.04 982L105.04 944M70.76 982L108.76 944M74.48 982L112.48 944M78.2 982L116.2 944M81.92 982L119.92 944M85.64 982L123.64 944M89.36 982L127.36 944M93.08 982L131.08 944M96.8 982L134.8 944M100.52 982L138.52 944M104.24 982L142.24 944M107.96 982L145.96 944M111.68 982L149.68 944M115.4 982L153.4 944M119.12 982L157.12 944M122.84 982L160.84 944M126.56 982L164.56 944" stroke="#a9c0ea" stroke-width="1.1" clip-path="url(#c5)"/>
<rect x="100.6" y="945" width="23.5" height="36" fill="none" stroke="#a9c0ea" stroke-width="1"/>
<rect x="100.6" y="943" width="23.5" height="2" fill="#ececec"/>
<rect x="100.6" y="943" width="23.5" height="2" fill="url(#p7)" stroke="#a9c0ea" stroke-width="1"/>
<rect x="100.6" y="940.6" width="23.5" height="2.4" fill="#ececec"/>
<rect x="100.6" y="940.6" width="23.5" height="2.4" fill="url(#p8)" stroke="#a9c0ea" stroke-width="1"/>
<rect x="100.6" y="940.6" width="23.5" height="52.4" fill="none" stroke="#a9c0ea" stroke-width="1.2"/>
<rect x="124.1" y="978.9" width="24" height="14.1" fill="#8eaadd"/>
<clipPath id="c6"><rect x="124.1" y="978.9" width="24" height="14.1"/></clipPath>
<path d="M91.6 994L107.7 977.9M103.4 994L119.5 977.9M115.2 994L131.3 977.9M127 994L143.1 977.9M138.8 994L154.9 977.9M150.6 994L166.7 977.9" stroke="#111" stroke-width="1.1" clip-path="url(#c6)"/>
<rect x="124.1" y="978.9" width="24" height="14.1" fill="none" stroke="#111" stroke-width="1"/>
<rect x="124.1" y="975.7" width="24" height="3.2" fill="#8eaadd"/>
<clipPath id="c7"><rect x="124.1" y="975.7" width="24" height="3.2"/></clipPath>
<path d="M101.5 974.7L106.7 979.9M113.3 974.7L118.5 979.9M125.1 974.7L130.3 979.9M136.9 974.7L142.1 979.9M148.7 974.7L153.9 979.9" stroke="#111" stroke-width="1.1" clip-path="url(#c7)"/>
<rect x="124.1" y="975.7" width="24" height="3.2" fill="none" stroke="#111" stroke-width="1"/>
<rect x="124.1" y="972.6" width="24" height="3.1" fill="#8eaadd"/>
<rect x="124.1" y="972.6" width="24" height="3.1" fill="url(#p9)" stroke="#111" stroke-width="1"/>
<rect x="124.1" y="969.4" width="24" height="3.2" fill="#8eaadd"/>
<rect x="124.1" y="969.4" width="24" height="3.2" fill="url(#p10)" stroke="#111" stroke-width="1"/>
<rect x="124.1" y="848" width="24" height="121.4" fill="#8eaadd"/>
<clipPath id="c8"><rect x="124.1" y="848" width="24" height="121.4"/></clipPath>
<path d="M-3.2 970.4L120.2 847M0.52 970.4L123.92 847M4.24 970.4L127.64 847M7.96 970.4L131.36 847M11.68 970.4L135.08 847M15.4 970.4L138.8 847M19.12 970.4L142.52 847M22.84 970.4L146.24 847M26.56 970.4L149.96 847M30.28 970.4L153.68 847M34 970.4L157.4 847M37.72 970.4L161.12 847M41.44 970.4L164.84 847M45.16 970.4L168.56 847M48.88 970.4L172.28 847M52.6 970.4L176 847M56.32 970.4L179.72 847M60.04 970.4L183.44 847M63.76 970.4L187.16 847M67.48 970.4L190.88 847M71.2 970.4L194.6 847M74.92 970.4L198.32 847M78.64 970.4L202.04 847M82.36 970.4L205.76 847M86.08 970.4L209.48 847M89.8 970.4L213.2 847M93.52 970.4L216.92 847M97.24 970.4L220.64 847M100.96 970.4L224.36 847M104.68 970.4L228.08 847M108.4 970.4L231.8 847M112.12 970.4L235.52 847M115.84 970.4L239.24 847M119.56 970.4L242.96 847M123.28 970.4L246.68 847M127 970.4L250.4 847M130.72 970.4L254.12 847M134.44 970.4L257.84 847M138.16 970.4L261.56 847M141.88 970.4L265.28 847M145.6 970.4L269 847M149.32 970.4L272.72 847" stroke="#111" stroke-width="1.1" clip-path="url(#c8)"/>
<rect x="124.1" y="848" width="24" height="121.4" fill="none" stroke="#111" stroke-width="1"/>
<rect x="124.1" y="846.5" width="24" height="1.5" fill="#8eaadd"/>
<rect x="124.1" y="846.5" width="24" height="1.5" fill="url(#p11)" stroke="#111" stroke-width="1"/>
<rect x="124.1" y="839" width="24" height="7.5" fill="#8eaadd"/>
<rect x="124.1" y="839" width="24" height="7.5" fill="url(#p12)" stroke="#111" stroke-width="1"/>
<rect x="124.1" y="839" width="24" height="154" fill="none" stroke="#111" stroke-width="1.2"/>
<rect x="160.2" y="987.5" width="23.1" height="5.5" fill="#ececec"/>
<clipPath id="c9"><rect x="160.2" y="987.5" width="23.1" height="5.5"/></clipPath>
<path d="M138.8 994L146.3 986.5M150.6 994L158.1 986.5M162.4 994L169.9 986.5M174.2 994L181.7 986.5M186 994L193.5 986.5" stroke="#4e6fb0" stroke-width="1.1" clip-path="url(#c9)"/>
<rect x="160.2" y="987.5" width="23.1" height="5.5" fill="none" stroke="#4e6fb0" stroke-width="1"/>
<rect x="160.2" y="983.6" width="23.1" height="3.9" fill="#ececec"/>
<clipPath id="c10"><rect x="160.2" y="983.6" width="23.1" height="3.9"/></clipPath>
<path d="M133 982.6L138.9 988.5M144.8 982.6L150.7 988.5M156.6 982.6L162.5 988.5M168.4 982.6L174.3 988.5M180.2 982.6L186.1 988.5M192 982.6L197.9 988.5" stroke="#4e6fb0" stroke-width="1.1" clip-path="url(#c10)"/>
<rect x="160.2" y="983.6" width="23.1" height="3.9" fill="none" stroke="#4e6fb0" stroke-width="1"/>
<rect x="160.2" y="980.5" width="23.1" height="3.1" fill="#ececec"/>
<rect x="160.2" y="980.5" width="23.1" height="3.1" fill="url(#p13)" stroke="#4e6fb0" stroke-width="1"/>
<rect x="160.2" y="977.1" width="23.1" height="3.4" fill="#ececec"/>
<rect x="160.2" y="977.1" width="23.1" height="3.4" fill="url(#p14)" stroke="#4e6fb0" stroke-width="1"/>
<rect x="160.2" y="949.5" width="23.1" height="27.6" fill="#ececec"/>
<clipPath id="c11"><rect x="160.2" y="949.5" width="23.1" height="27.6"/></clipPath>
<path d="M126.74 978.1L156.34 948.5M130.46 978.1L160.06 948.5M134.18 978.1L163.78 948.5M137.9 978.1L167.5 948.5M141.62 978.1L171.22 948.5M145.34 978.1L174.94 948.5M149.06 978.1L178.66 948.5M152.78 978.1L182.38 948.5M156.5 978.1L186.1 948.5M160.22 978.1L189.82 948.5M163.94 978.1L193.54 948.5M167.66 978.1L197.26 948.5M171.38 978.1L200.98 948.5M175.1 978.1L204.7 948.5M178.82 978.1L208.42 948.5M182.54 978.1L212.14 948.5" stroke="#4e6fb0" stroke-width="1.1" clip-path="url(#c11)"/>
<rect x="160.2" y="949.5" width="23.1" height="27.6" fill="none" stroke="#4e6fb0" stroke-width="1"/>
<rect x="160.2" y="948" width="23.1" height="1.5" fill="#ececec"/>
<rect x="160.2" y="948" width="23.1" height="1.5" fill="url(#p15)" stroke="#4e6fb0" stroke-width="1"/>
<rect x="160.2" y="938.9" width="23.1" height="9.1" fill="#ececec"/>
<rect x="160.2" y="938.9" width="23.1" height="9.1" fill="url(#p16)" stroke="#4e6fb0" stroke-width="1"/>
<rect x="160.2" y="938.9" width="23.1" height="54.1" fill="none" stroke="#4e6fb0" stroke-width="1.2"/>
<rect x="183.3" y="967.8" width="23.9" height="25.2" fill="#3d5fa0"/>
<clipPath id="c12"><rect x="183.3" y="967.8" width="23.9" height="25.2"/></clipPath>
<path d="M138.8 994L166 966.8M150.6 994L177.8 966.8M162.4 994L189.6 966.8M174.2 994L201.4 966.8M186 994L213.2 966.8M197.8 994L225 966.8M209.6 994L236.8 966.8" stroke="#111" stroke-width="1.1" clip-path="url(#c12)"/>
<rect x="183.3" y="967.8" width="23.9" height="25.2" fill="none" stroke="#111" stroke-width="1"/>
<rect x="183.3" y="965.5" width="23.9" height="2.3" fill="#3d5fa0"/>
<clipPath id="c13"><rect x="183.3" y="965.5" width="23.9" height="2.3"/></clipPath>
<path d="M162.1 964.5L166.4 968.8M173.9 964.5L178.2 968.8M185.7 964.5L190 968.8M197.5 964.5L201.8 968.8M209.3 964.5L213.6 968.8" stroke="#111" stroke-width="1.1" clip-path="url(#c13)"/>
<rect x="183.3" y="965.5" width="23.9" height="2.3" fill="none" stroke="#111" stroke-width="1"/>
<rect x="183.3" y="964.7" width="23.9" height="0.8" fill="#3d5fa0"/>
<rect x="183.3" y="964.7" width="23.9" height="0.8" fill="url(#p17)" stroke="#111" stroke-width="1"/>
<rect x="183.3" y="963.1" width="23.9" height="1.6" fill="#111"/>
<rect x="183.3" y="885.9" width="23.9" height="77.2" fill="#3d5fa0"/>
<clipPath id="c14"><rect x="183.3" y="885.9" width="23.9" height="77.2"/></clipPath>
<path d="M99.82 964.1L179.02 884.9M103.54 964.1L182.74 884.9M107.26 964.1L186.46 884.9M110.98 964.1L190.18 884.9M114.7 964.1L193.9 884.9M118.42 964.1L197.62 884.9M122.14 964.1L201.34 884.9M125.86 964.1L205.06 884.9M129.58 964.1L208.78 884.9M133.3 964.1L212.5 884.9M137.02 964.1L216.22 884.9M140.74 964.1L219.94 884.9M144.46 964.1L223.66 884.9M148.18 964.1L227.38 884.9M151.9 964.1L231.1 884.9M155.62 964.1L234.82 884.9M159.34 964.1L238.54 884.9M163.06 964.1L242.26 884.9M166.78 964.1L245.98 884.9M170.5 964.1L249.7 884.9M174.22 964.1L253.42 884.9M177.94 964.1L257.14 884.9M181.66 964.1L260.86 884.9M185.38 964.1L264.58 884.9M189.1 964.1L268.3 884.9M192.82 964.1L272.02 884.9M196.54 964.1L275.74 884.9M200.26 964.1L279.46 884.9M203.98 964.1L283.18 884.9M207.7 964.1L286.9 884.9" stroke="#111" stroke-width="1.1" clip-path="url(#c14)"/>
<rect x="183.3" y="885.9" width="23.9" height="77.2" fill="none" stroke="#111" stroke-width="1"/>
<rect x="183.3" y="884.5" width="23.9" height="1.4" fill="#3d5fa0"/>
<rect x="183.3" y="884.5" width="23.9" height="1.4" fill="url(#p18)" stroke="#111" stroke-width="1"/>
<rect x="183.3" y="879.9" width="23.9" height="4.6" fill="#3d5fa0"/>
<rect x="183.3" y="879.9" width="23.9" height="4.6" fill="url(#p19)" stroke="#111" stroke-width="1"/>
<rect x="183.3" y="879.9" width="23.9" height="113.1" fill="none" stroke="#111" stroke-width="1.2"/>
<rect x="255.2" y="979" width="24.1" height="14" fill="#ececec"/>
<clipPath id="c15"><rect x="255.2" y="979" width="24.1" height="14"/></clipPath>
<path d="M221.4 994L237.4 978M233.2 994L249.2 978M245 994L261 978M256.8 994L272.8 978M268.6 994L284.6 978M280.4 994L296.4 978" stroke="#b2dca0" stroke-width="1.1" clip-path="url(#c15)"/>
<rect x="255.2" y="979" width="24.1" height="14" fill="none" stroke="#b2dca0" stroke-width="1"/>
<rect x="255.2" y="978" width="24.1" height="1" fill="#ececec"/>
<clipPath id="c16"><rect x="255.2" y="978" width="24.1" height="1"/></clipPath>
<path d="M233.6 977L236.6 980M245.4 977L248.4 980M257.2 977L260.2 980M269 977L272 980M280.8 977L283.8 980" stroke="#b2dca0" stroke-width="1.1" clip-path="url(#c16)"/>
<rect x="255.2" y="978" width="24.1" height="1" fill="none" stroke="#b2dca0" stroke-width="1"/>
<rect x="255.2" y="977.5" width="24.1" height="0.5" fill="#ececec"/>
<rect x="255.2" y="977.5" width="24.1" height="0.5" fill="url(#p20)" stroke="#b2dca0" stroke-width="1"/>
<rect x="255.2" y="976.7" width="24.1" height="0.8" fill="#ececec"/>
<rect x="255.2" y="976.7" width="24.1" height="0.8" fill="url(#p21)" stroke="#b2dca0" stroke-width="1"/>
<rect x="255.2" y="812.4" width="24.1" height="164.3" fill="#ececec"/>
<clipPath id="c17"><rect x="255.2" y="812.4" width="24.1" height="164.3"/></clipPath>
<path d="M82.5 977.7L248.8 811.4M86.22 977.7L252.52 811.4M89.94 977.7L256.24 811.4M93.66 977.7L259.96 811.4M97.38 977.7L263.68 811.4M101.1 977.7L267.4 811.4M104.82 977.7L271.12 811.4M108.54 977.7L274.84 811.4M112.26 977.7L278.56 811.4M115.98 977.7L282.28 811.4M119.7 977.7L286 811.4M123.42 977.7L289.72 811.4M127.14 977.7L293.44 811.4M130.86 977.7L297.16 811.4M134.58 977.7L300.88 811.4M138.3 977.7L304.6 811.4M142.02 977.7L308.32 811.4M145.74 977.7L312.04 811.4M149.46 977.7L315.76 811.4M153.18 977.7L319.48 811.4M156.9 977.7L323.2 811.4M160.62 977.7L326.92 811.4M164.34 977.7L330.64 811.4M168.06 977.7L334.36 811.4M171.78 977.7L338.08 811.4M175.5 977.7L341.8 811.4M179.22 977.7L345.52 811.4M182.94 977.7L349.24 811.4M186.66 977.7L352.96 811.4M190.38 977.7L356.68 811.4M194.1 977.7L360.4 811.4M197.82 977.7L364.12 811.4M201.54 977.7L367.84 811.4M205.26 977.7L371.56 811.4M208.98 977.7L375.28 811.4M212.7 977.7L379 811.4M216.42 977.7L382.72 811.4M220.14 977.7L386.44 811.4M223.86 977.7L390.16 811.4M227.58 977.7L393.88 811.4M231.3 977.7L397.6 811.4M235.02 977.7L401.32 811.4M238.74 977.7L405.04 811.4M242.46 977.7L408.76 811.4M246.18 977.7L412.48 811.4M249.9 977.7L416.2 811.4M253.62 977.7L419.92 811.4M257.34 977.7L423.64 811.4M261.06 977.7L427.36 811.4M264.78 977.7L431.08 811.4M268.5 977.7L434.8 811.4M272.22 977.7L438.52 811.4M275.94 977.7L442.24 811.4M279.66 977.7L445.96 811.4" stroke="#b2dca0" stroke-width="1.1" clip-path="url(#c17)"/>
<rect x="255.2" y="812.4" width="24.1" height="164.3" fill="none" stroke="#b2dca0" stroke-width="1"/>
<rect x="255.2" y="807.8" width="24.1" height="4.6" fill="#ececec"/>
<rect x="255.2" y="807.8" width="24.1" height="4.6" fill="url(#p22)" stroke="#b2dca0" stroke-width="1"/>
<rect x="255.2" y="790.5" width="24.1" height="17.3" fill="#ececec"/>
<rect x="255.2" y="790.5" width="24.1" height="17.3" fill="url(#p23)" stroke="#b2dca0" stroke-width="1"/>
<rect x="255.2" y="790.5" width="24.1" height="202.5" fill="none" stroke="#b2dca0" stroke-width="1.2"/>
<rect x="279.3" y="981.2" width="23.2" height="11.8" fill="#a8d68c"/>
<clipPath id="c18"><rect x="279.3" y="981.2" width="23.2" height="11.8"/></clipPath>
<path d="M245 994L258.8 980.2M256.8 994L270.6 980.2M268.6 994L282.4 980.2M280.4 994L294.2 980.2M292.2 994L306 980.2M304 994L317.8 980.2" stroke="#111" stroke-width="1.1" clip-path="url(#c18)"/>
<rect x="279.3" y="981.2" width="23.2" height="11.8" fill="none" stroke="#111" stroke-width="1"/>
<rect x="279.3" y="975.5" width="23.2" height="5.7" fill="#a8d68c"/>
<clipPath id="c19"><rect x="279.3" y="975.5" width="23.2" height="5.7"/></clipPath>
<path d="M254.7 974.5L262.4 982.2M266.5 974.5L274.2 982.2M278.3 974.5L286 982.2M290.1 974.5L297.8 982.2M301.9 974.5L309.6 982.2" stroke="#111" stroke-width="1.1" clip-path="url(#c19)"/>
<rect x="279.3" y="975.5" width="23.2" height="5.7" fill="none" stroke="#111" stroke-width="1"/>
<rect x="279.3" y="969.9" width="23.2" height="5.6" fill="#a8d68c"/>
<rect x="279.3" y="969.9" width="23.2" height="5.6" fill="url(#p24)" stroke="#111" stroke-width="1"/>
<rect x="279.3" y="962" width="23.2" height="7.9" fill="#a8d68c"/>
<rect x="279.3" y="962" width="23.2" height="7.9" fill="url(#p25)" stroke="#111" stroke-width="1"/>
<rect x="279.3" y="883.7" width="23.2" height="78.3" fill="#a8d68c"/>
<clipPath id="c20"><rect x="279.3" y="883.7" width="23.2" height="78.3"/></clipPath>
<path d="M193.92 963L274.22 882.7M197.64 963L277.94 882.7M201.36 963L281.66 882.7M205.08 963L285.38 882.7M208.8 963L289.1 882.7M212.52 963L292.82 882.7M216.24 963L296.54 882.7M219.96 963L300.26 882.7M223.68 963L303.98 882.7M227.4 963L307.7 882.7M231.12 963L311.42 882.7M234.84 963L315.14 882.7M238.56 963L318.86 882.7M242.28 963L322.58 882.7M246 963L326.3 882.7M249.72 963L330.02 882.7M253.44 963L333.74 882.7M257.16 963L337.46 882.7M260.88 963L341.18 882.7M264.6 963L344.9 882.7M268.32 963L348.62 882.7M272.04 963L352.34 882.7M275.76 963L356.06 882.7M279.48 963L359.78 882.7M283.2 963L363.5 882.7M286.92 963L367.22 882.7M290.64 963L370.94 882.7M294.36 963L374.66 882.7M298.08 963L378.38 882.7M301.8 963L382.1 882.7" stroke="#111" stroke-width="1.1" clip-path="url(#c20)"/>
<rect x="279.3" y="883.7" width="23.2" height="78.3" fill="none" stroke="#111" stroke-width="1"/>
<rect x="279.3" y="883" width="23.2" height="0.7" fill="#a8d68c"/>
<rect x="279.3" y="883" width="23.2" height="0.7" fill="url(#p26)" stroke="#111" stroke-width="1"/>
<rect x="279.3" y="871.5" width="23.2" height="11.5" fill="#a8d68c"/>
<rect x="279.3" y="871.5" width="23.2" height="11.5" fill="url(#p27)" stroke="#111" stroke-width="1"/>
<rect x="279.3" y="871.5" width="23.2" height="121.5" fill="none" stroke="#111" stroke-width="1.2"/>
<rect x="314.8" y="980" width="23.9" height="13" fill="#ececec"/>
<clipPath id="c21"><rect x="314.8" y="980" width="23.9" height="13"/></clipPath>
<path d="M280.4 994L295.4 979M292.2 994L307.2 979M304 994L319 979M315.8 994L330.8 979M327.6 994L342.6 979M339.4 994L354.4 979" stroke="#6ea454" stroke-width="1.1" clip-path="url(#c21)"/>
<rect x="314.8" y="980" width="23.9" height="13" fill="none" stroke="#6ea454" stroke-width="1"/>
<rect x="314.8" y="979.5" width="23.9" height="0.5" fill="#ececec"/>
<clipPath id="c22"><rect x="314.8" y="979.5" width="23.9" height="0.5"/></clipPath>
<path d="M294.1 978.5L296.6 981M305.9 978.5L308.4 981M317.7 978.5L320.2 981M329.5 978.5L332 981M341.3 978.5L343.8 981" stroke="#6ea454" stroke-width="1.1" clip-path="url(#c22)"/>
<rect x="314.8" y="979.5" width="23.9" height="0.5" fill="none" stroke="#6ea454" stroke-width="1"/>
<rect x="314.8" y="979" width="23.9" height="0.5" fill="#ececec"/>
<rect x="314.8" y="979" width="23.9" height="0.5" fill="url(#p28)" stroke="#6ea454" stroke-width="1"/>
<rect x="314.8" y="978.5" width="23.9" height="0.5" fill="#ececec"/>
<rect x="314.8" y="978.5" width="23.9" height="0.5" fill="url(#p29)" stroke="#6ea454" stroke-width="1"/>
<rect x="314.8" y="835" width="23.9" height="143.5" fill="#ececec"/>
<clipPath id="c23"><rect x="314.8" y="835" width="23.9" height="143.5"/></clipPath>
<path d="M166.26 979.5L311.76 834M169.98 979.5L315.48 834M173.7 979.5L319.2 834M177.42 979.5L322.92 834M181.14 979.5L326.64 834M184.86 979.5L330.36 834M188.58 979.5L334.08 834M192.3 979.5L337.8 834M196.02 979.5L341.52 834M199.74 979.5L345.24 834M203.46 979.5L348.96 834M207.18 979.5L352.68 834M210.9 979.5L356.4 834M214.62 979.5L360.12 834M218.34 979.5L363.84 834M222.06 979.5L367.56 834M225.78 979.5L371.28 834M229.5 979.5L375 834M233.22 979.5L378.72 834M236.94 979.5L382.44 834M240.66 979.5L386.16 834M244.38 979.5L389.88 834M248.1 979.5L393.6 834M251.82 979.5L397.32 834M255.54 979.5L401.04 834M259.26 979.5L404.76 834M262.98 979.5L408.48 834M266.7 979.5L412.2 834M270.42 979.5L415.92 834M274.14 979.5L419.64 834M277.86 979.5L423.36 834M281.58 979.5L427.08 834M285.3 979.5L430.8 834M289.02 979.5L434.52 834M292.74 979.5L438.24 834M296.46 979.5L441.96 834M300.18 979.5L445.68 834M303.9 979.5L449.4 834M307.62 979.5L453.12 834M311.34 979.5L456.84 834M315.06 979.5L460.56 834M318.78 979.5L464.28 834M322.5 979.5L468 834M326.22 979.5L471.72 834M329.94 979.5L475.44 834M333.66 979.5L479.16 834M337.38 979.5L482.88 834M341.1 979.5L486.6 834" stroke="#6ea454" stroke-width="1.1" clip-path="url(#c23)"/>
<rect x="314.8" y="835" width="23.9" height="143.5" fill="none" stroke="#6ea454" stroke-width="1"/>
<rect x="314.8" y="826.3" width="23.9" height="8.7" fill="#ececec"/>
<rect x="314.8" y="826.3" width="23.9" height="8.7" fill="url(#p30)" stroke="#6ea454" stroke-width="1"/>
<rect x="314.8" y="807.9" width="23.9" height="18.4" fill="#ececec"/>
<rect x="314.8" y="807.9" width="23.9" height="18.4" fill="url(#p31)" stroke="#6ea454" stroke-width="1"/>
<rect x="314.8" y="807.9" width="23.9" height="185.1" fill="none" stroke="#6ea454" stroke-width="1.2"/>
<rect x="338.7" y="985.1" width="23.2" height="7.9" fill="#5e9640"/>
<clipPath id="c24"><rect x="338.7" y="985.1" width="23.2" height="7.9"/></clipPath>
<path d="M315.8 994L325.7 984.1M327.6 994L337.5 984.1M339.4 994L349.3 984.1M351.2 994L361.1 984.1M363 994L372.9 984.1" stroke="#111" stroke-width="1.1" clip-path="url(#c24)"/>
<rect x="338.7" y="985.1" width="23.2" height="7.9" fill="none" stroke="#111" stroke-width="1"/>
<rect x="338.7" y="981.4" width="23.2" height="3.7" fill="#5e9640"/>
<clipPath id="c25"><rect x="338.7" y="981.4" width="23.2" height="3.7"/></clipPath>
<path d="M319.6 980.4L325.3 986.1M331.4 980.4L337.1 986.1M343.2 980.4L348.9 986.1M355 980.4L360.7 986.1M366.8 980.4L372.5 986.1" stroke="#111" stroke-width="1.1" clip-path="url(#c25)"/>
<rect x="338.7" y="981.4" width="23.2" height="3.7" fill="none" stroke="#111" stroke-width="1"/>
<rect x="338.7" y="978.4" width="23.2" height="3" fill="#5e9640"/>
<rect x="338.7" y="978.4" width="23.2" height="3" fill="url(#p32)" stroke="#111" stroke-width="1"/>
<rect x="338.7" y="974.3" width="23.2" height="4.1" fill="#5e9640"/>
<rect x="338.7" y="974.3" width="23.2" height="4.1" fill="url(#p33)" stroke="#111" stroke-width="1"/>
<rect x="338.7" y="903.3" width="23.2" height="71" fill="#5e9640"/>
<clipPath id="c26"><rect x="338.7" y="903.3" width="23.2" height="71"/></clipPath>
<path d="M259.74 975.3L332.74 902.3M263.46 975.3L336.46 902.3M267.18 975.3L340.18 902.3M270.9 975.3L343.9 902.3M274.62 975.3L347.62 902.3M278.34 975.3L351.34 902.3M282.06 975.3L355.06 902.3M285.78 975.3L358.78 902.3M289.5 975.3L362.5 902.3M293.22 975.3L366.22 902.3M296.94 975.3L369.94 902.3M300.66 975.3L373.66 902.3M304.38 975.3L377.38 902.3M308.1 975.3L381.1 902.3M311.82 975.3L384.82 902.3M315.54 975.3L388.54 902.3M319.26 975.3L392.26 902.3M322.98 975.3L395.98 902.3M326.7 975.3L399.7 902.3M330.42 975.3L403.42 902.3M334.14 975.3L407.14 902.3M337.86 975.3L410.86 902.3M341.58 975.3L414.58 902.3M345.3 975.3L418.3 902.3M349.02 975.3L422.02 902.3M352.74 975.3L425.74 902.3M356.46 975.3L429.46 902.3M360.18 975.3L433.18 902.3M363.9 975.3L436.9 902.3" stroke="#111" stroke-width="1.1" clip-path="url(#c26)"/>
<rect x="338.7" y="903.3" width="23.2" height="71" fill="none" stroke="#111" stroke-width="1"/>
<rect x="338.7" y="902.5" width="23.2" height="0.8" fill="#5e9640"/>
<rect x="338.7" y="902.5" width="23.2" height="0.8" fill="url(#p34)" stroke="#111" stroke-width="1"/>
<rect x="338.7" y="892.1" width="23.2" height="10.4" fill="#5e9640"/>
<rect x="338.7" y="892.1" width="23.2" height="10.4" fill="url(#p35)" stroke="#111" stroke-width="1"/>
<rect x="338.7" y="892.1" width="23.2" height="100.9" fill="none" stroke="#111" stroke-width="1.2"/>
<rect x="409.6" y="989.7" width="24" height="3.3" fill="#ececec"/>
<clipPath id="c27"><rect x="409.6" y="989.7" width="24" height="3.3"/></clipPath>
<path d="M386.6 994L391.9 988.7M398.4 994L403.7 988.7M410.2 994L415.5 988.7M422 994L427.3 988.7M433.8 994L439.1 988.7" stroke="#f0e08a" stroke-width="1.1" clip-path="url(#c27)"/>
<rect x="409.6" y="989.7" width="24" height="3.3" fill="none" stroke="#f0e08a" stroke-width="1"/>
<rect x="409.6" y="941.7" width="24" height="48" fill="#ececec"/>
<clipPath id="c28"><rect x="409.6" y="941.7" width="24" height="48"/></clipPath>
<path d="M355.94 990.7L405.94 940.7M359.66 990.7L409.66 940.7M363.38 990.7L413.38 940.7M367.1 990.7L417.1 940.7M370.82 990.7L420.82 940.7M374.54 990.7L424.54 940.7M378.26 990.7L428.26 940.7M381.98 990.7L431.98 940.7M385.7 990.7L435.7 940.7M389.42 990.7L439.42 940.7M393.14 990.7L443.14 940.7M396.86 990.7L446.86 940.7M400.58 990.7L450.58 940.7M404.3 990.7L454.3 940.7M408.02 990.7L458.02 940.7M411.74 990.7L461.74 940.7M415.46 990.7L465.46 940.7M419.18 990.7L469.18 940.7M422.9 990.7L472.9 940.7M426.62 990.7L476.62 940.7M430.34 990.7L480.34 940.7M434.06 990.7L484.06 940.7" stroke="#f0e08a" stroke-width="1.1" clip-path="url(#c28)"/>
<rect x="409.6" y="941.7" width="24" height="48" fill="none" stroke="#f0e08a" stroke-width="1"/>
<rect x="409.6" y="938.8" width="24" height="2.9" fill="#ececec"/>
<rect x="409.6" y="938.8" width="24" height="2.9" fill="url(#p36)" stroke="#f0e08a" stroke-width="1"/>
<rect x="409.6" y="935.5" width="24" height="3.3" fill="#ececec"/>
<rect x="409.6" y="935.5" width="24" height="3.3" fill="url(#p37)" stroke="#f0e08a" stroke-width="1"/>
<rect x="409.6" y="935.5" width="24" height="57.5" fill="none" stroke="#f0e08a" stroke-width="1.2"/>
<rect x="433.6" y="990.6" width="23.4" height="2.4" fill="#ecd66a"/>
<clipPath id="c29"><rect x="433.6" y="990.6" width="23.4" height="2.4"/></clipPath>
<path d="M410.2 994L414.6 989.6M422 994L426.4 989.6M433.8 994L438.2 989.6M445.6 994L450 989.6M457.4 994L461.8 989.6" stroke="#111" stroke-width="1.1" clip-path="url(#c29)"/>
<rect x="433.6" y="990.6" width="23.4" height="2.4" fill="none" stroke="#111" stroke-width="1"/>
<rect x="433.6" y="987.2" width="23.4" height="3.4" fill="#111"/>
<rect x="433.6" y="677.5" width="23.4" height="309.7" fill="#ecd66a"/>
<clipPath id="c30"><rect x="433.6" y="677.5" width="23.4" height="309.7"/></clipPath>
<path d="M116.64 988.2L428.34 676.5M120.36 988.2L432.06 676.5M124.08 988.2L435.78 676.5M127.8 988.2L439.5 676.5M131.52 988.2L443.22 676.5M135.24 988.2L446.94 676.5M138.96 988.2L450.66 676.5M142.68 988.2L454.38 676.5M146.4 988.2L458.1 676.5M150.12 988.2L461.82 676.5M153.84 988.2L465.54 676.5M157.56 988.2L469.26 676.5M161.28 988.2L472.98 676.5M165 988.2L476.7 676.5M168.72 988.2L480.42 676.5M172.44 988.2L484.14 676.5M176.16 988.2L487.86 676.5M179.88 988.2L491.58 676.5M183.6 988.2L495.3 676.5M187.32 988.2L499.02 676.5M191.04 988.2L502.74 676.5M194.76 988.2L506.46 676.5M198.48 988.2L510.18 676.5M202.2 988.2L513.9 676.5M205.92 988.2L517.62 676.5M209.64 988.2L521.34 676.5M213.36 988.2L525.06 676.5M217.08 988.2L528.78 676.5M220.8 988.2L532.5 676.5M224.52 988.2L536.22 676.5M228.24 988.2L539.94 676.5M231.96 988.2L543.66 676.5M235.68 988.2L547.38 676.5M239.4 988.2L551.1 676.5M243.12 988.2L554.82 676.5M246.84 988.2L558.54 676.5M250.56 988.2L562.26 676.5M254.28 988.2L565.98 676.5M258 988.2L569.7 676.5M261.72 988.2L573.42 676.5M265.44 988.2L577.14 676.5M269.16 988.2L580.86 676.5M272.88 988.2L584.58 676.5M276.6 988.2L588.3 676.5M280.32 988.2L592.02 676.5M284.04 988.2L595.74 676.5M287.76 988.2L599.46 676.5M291.48 988.2L603.18 676.5M295.2 988.2L606.9 676.5M298.92 988.2L610.62 676.5M302.64 988.2L614.34 676.5M306.36 988.2L618.06 676.5M310.08 988.2L621.78 676.5M313.8 988.2L625.5 676.5M317.52 988.2L629.22 676.5M321.24 988.2L632.94 676.5M324.96 988.2L636.66 676.5M328.68 988.2L640.38 676.5M332.4 988.2L644.1 676.5M336.12 988.2L647.82 676.5M339.84 988.2L651.54 676.5M343.56 988.2L655.26 676.5M347.28 988.2L658.98 676.5M351 988.2L662.7 676.5M354.72 988.2L666.42 676.5M358.44 988.2L670.14 676.5M362.16 988.2L673.86 676.5M365.88 988.2L677.58 676.5M369.6 988.2L681.3 676.5M373.32 988.2L685.02 676.5M377.04 988.2L688.74 676.5M380.76 988.2L692.46 676.5M384.48 988.2L696.18 676.5M388.2 988.2L699.9 676.5M391.92 988.2L703.62 676.5M395.64 988.2L707.34 676.5M399.36 988.2L711.06 676.5M403.08 988.2L714.78 676.5M406.8 988.2L718.5 676.5M410.52 988.2L722.22 676.5M414.24 988.2L725.94 676.5M417.96 988.2L729.66 676.5M421.68 988.2L733.38 676.5M425.4 988.2L737.1 676.5M429.12 988.2L740.82 676.5M432.84 988.2L744.54 676.5M436.56 988.2L748.26 676.5M440.28 988.2L751.98 676.5M444 988.2L755.7 676.5M447.72 988.2L759.42 676.5M451.44 988.2L763.14 676.5M455.16 988.2L766.86 676.5M458.88 988.2L770.58 676.5" stroke="#111" stroke-width="1.1" clip-path="url(#c30)"/>
<rect x="433.6" y="677.5" width="23.4" height="309.7" fill="none" stroke="#111" stroke-width="1"/>
<rect x="433.6" y="675.9" width="23.4" height="1.6" fill="#ecd66a"/>
<rect x="433.6" y="675.9" width="23.4" height="1.6" fill="url(#p38)" stroke="#111" stroke-width="1"/>
<rect x="433.6" y="669.2" width="23.4" height="6.7" fill="#ecd66a"/>
<rect x="433.6" y="669.2" width="23.4" height="6.7" fill="url(#p39)" stroke="#111" stroke-width="1"/>
<rect x="433.6" y="669.2" width="23.4" height="323.8" fill="none" stroke="#111" stroke-width="1.2"/>
<rect x="469.4" y="991" width="23.6" height="2" fill="#ececec"/>
<clipPath id="c31"><rect x="469.4" y="991" width="23.6" height="2"/></clipPath>
<path d="M445.6 994L449.6 990M457.4 994L461.4 990M469.2 994L473.2 990M481 994L485 990M492.8 994L496.8 990" stroke="#d6b65c" stroke-width="1.1" clip-path="url(#c31)"/>
<rect x="469.4" y="991" width="23.6" height="2" fill="none" stroke="#d6b65c" stroke-width="1"/>
<rect x="469.4" y="912.3" width="23.6" height="78.7" fill="#ececec"/>
<clipPath id="c32"><rect x="469.4" y="912.3" width="23.6" height="78.7"/></clipPath>
<path d="M384.4 992L465.1 911.3M388.12 992L468.82 911.3M391.84 992L472.54 911.3M395.56 992L476.26 911.3M399.28 992L479.98 911.3M403 992L483.7 911.3M406.72 992L487.42 911.3M410.44 992L491.14 911.3M414.16 992L494.86 911.3M417.88 992L498.58 911.3M421.6 992L502.3 911.3M425.32 992L506.02 911.3M429.04 992L509.74 911.3M432.76 992L513.46 911.3M436.48 992L517.18 911.3M440.2 992L520.9 911.3M443.92 992L524.62 911.3M447.64 992L528.34 911.3M451.36 992L532.06 911.3M455.08 992L535.78 911.3M458.8 992L539.5 911.3M462.52 992L543.22 911.3M466.24 992L546.94 911.3M469.96 992L550.66 911.3M473.68 992L554.38 911.3M477.4 992L558.1 911.3M481.12 992L561.82 911.3M484.84 992L565.54 911.3M488.56 992L569.26 911.3M492.28 992L572.98 911.3" stroke="#d6b65c" stroke-width="1.1" clip-path="url(#c32)"/>
<rect x="469.4" y="912.3" width="23.6" height="78.7" fill="none" stroke="#d6b65c" stroke-width="1"/>
<rect x="469.4" y="908.5" width="23.6" height="3.8" fill="#ececec"/>
<rect x="469.4" y="908.5" width="23.6" height="3.8" fill="url(#p40)" stroke="#d6b65c" stroke-width="1"/>
<rect x="469.4" y="901.8" width="23.6" height="6.7" fill="#ececec"/>
<rect x="469.4" y="901.8" width="23.6" height="6.7" fill="url(#p41)" stroke="#d6b65c" stroke-width="1"/>
<rect x="469.4" y="901.8" width="23.6" height="91.2" fill="none" stroke="#d6b65c" stroke-width="1.2"/>
<rect x="493" y="987.2" width="23.2" height="5.8" fill="#bf9830"/>
<clipPath id="c33"><rect x="493" y="987.2" width="23.2" height="5.8"/></clipPath>
<path d="M469.2 994L477 986.2M481 994L488.8 986.2M492.8 994L500.6 986.2M504.6 994L512.4 986.2M516.4 994L524.2 986.2" stroke="#111" stroke-width="1.1" clip-path="url(#c33)"/>
<rect x="493" y="987.2" width="23.2" height="5.8" fill="none" stroke="#111" stroke-width="1"/>
<rect x="493" y="728.1" width="23.2" height="259.1" fill="#bf9830"/>
<clipPath id="c34"><rect x="493" y="728.1" width="23.2" height="259.1"/></clipPath>
<path d="M228.24 988.2L489.34 727.1M231.96 988.2L493.06 727.1M235.68 988.2L496.78 727.1M239.4 988.2L500.5 727.1M243.12 988.2L504.22 727.1M246.84 988.2L507.94 727.1M250.56 988.2L511.66 727.1M254.28 988.2L515.38 727.1M258 988.2L519.1 727.1M261.72 988.2L522.82 727.1M265.44 988.2L526.54 727.1M269.16 988.2L530.26 727.1M272.88 988.2L533.98 727.1M276.6 988.2L537.7 727.1M280.32 988.2L541.42 727.1M284.04 988.2L545.14 727.1M287.76 988.2L548.86 727.1M291.48 988.2L552.58 727.1M295.2 988.2L556.3 727.1M298.92 988.2L560.02 727.1M302.64 988.2L563.74 727.1M306.36 988.2L567.46 727.1M310.08 988.2L571.18 727.1M313.8 988.2L574.9 727.1M317.52 988.2L578.62 727.1M321.24 988.2L582.34 727.1M324.96 988.2L586.06 727.1M328.68 988.2L589.78 727.1M332.4 988.2L593.5 727.1M336.12 988.2L597.22 727.1M339.84 988.2L600.94 727.1M343.56 988.2L604.66 727.1M347.28 988.2L608.38 727.1M351 988.2L612.1 727.1M354.72 988.2L615.82 727.1M358.44 988.2L619.54 727.1M362.16 988.2L623.26 727.1M365.88 988.2L626.98 727.1M369.6 988.2L630.7 727.1M373.32 988.2L634.42 727.1M377.04 988.2L638.14 727.1M380.76 988.2L641.86 727.1M384.48 988.2L645.58 727.1M388.2 988.2L649.3 727.1M391.92 988.2L653.02 727.1M395.64 988.2L656.74 727.1M399.36 988.2L660.46 727.1M403.08 988.2L664.18 727.1M406.8 988.2L667.9 727.1M410.52 988.2L671.62 727.1M414.24 988.2L675.34 727.1M417.96 988.2L679.06 727.1M421.68 988.2L682.78 727.1M425.4 988.2L686.5 727.1M429.12 988.2L690.22 727.1M432.84 988.2L693.94 727.1M436.56 988.2L697.66 727.1M440.28 988.2L701.38 727.1M444 988.2L705.1 727.1M447.72 988.2L708.82 727.1M451.44 988.2L712.54 727.1M455.16 988.2L716.26 727.1M458.88 988.2L719.98 727.1M462.6 988.2L723.7 727.1M466.32 988.2L727.42 727.1M470.04 988.2L731.14 727.1M473.76 988.2L734.86 727.1M477.48 988.2L738.58 727.1M481.2 988.2L742.3 727.1M484.92 988.2L746.02 727.1M488.64 988.2L749.74 727.1M492.36 988.2L753.46 727.1M496.08 988.2L757.18 727.1M499.8 988.2L760.9 727.1M503.52 988.2L764.62 727.1M507.24 988.2L768.34 727.1M510.96 988.2L772.06 727.1M514.68 988.2L775.78 727.1M518.4 988.2L779.5 727.1" stroke="#111" stroke-width="1.1" clip-path="url(#c34)"/>
<rect x="493" y="728.1" width="23.2" height="259.1" fill="none" stroke="#111" stroke-width="1"/>
<rect x="493" y="727" width="23.2" height="1.1" fill="#bf9830"/>
<rect x="493" y="727" width="23.2" height="1.1" fill="url(#p42)" stroke="#111" stroke-width="1"/>
<rect x="493" y="720.5" width="23.2" height="6.5" fill="#bf9830"/>
<rect x="493" y="720.5" width="23.2" height="6.5" fill="url(#p43)" stroke="#111" stroke-width="1"/>
<rect x="493" y="720.5" width="23.2" height="272.5" fill="none" stroke="#111" stroke-width="1.2"/>
<rect x="564.6" y="988.9" width="23.6" height="4.1" fill="#ececec"/>
<clipPath id="c35"><rect x="564.6" y="988.9" width="23.6" height="4.1"/></clipPath>
<path d="M540 994L546.1 987.9M551.8 994L557.9 987.9M563.6 994L569.7 987.9M575.4 994L581.5 987.9M587.2 994L593.3 987.9" stroke="#f2b68e" stroke-width="1.1" clip-path="url(#c35)"/>
<rect x="564.6" y="988.9" width="23.6" height="4.1" fill="none" stroke="#f2b68e" stroke-width="1"/>
<rect x="564.6" y="985.3" width="23.6" height="3.6" fill="#ececec"/>
<clipPath id="c36"><rect x="564.6" y="985.3" width="23.6" height="3.6"/></clipPath>
<path d="M547.7 984.3L553.3 989.9M559.5 984.3L565.1 989.9M571.3 984.3L576.9 989.9M583.1 984.3L588.7 989.9M594.9 984.3L600.5 989.9" stroke="#f2b68e" stroke-width="1.1" clip-path="url(#c36)"/>
<rect x="564.6" y="985.3" width="23.6" height="3.6" fill="none" stroke="#f2b68e" stroke-width="1"/>
<rect x="564.6" y="981.2" width="23.6" height="4.1" fill="#ececec"/>
<rect x="564.6" y="981.2" width="23.6" height="4.1" fill="url(#p44)" stroke="#f2b68e" stroke-width="1"/>
<rect x="564.6" y="978.4" width="23.6" height="2.8" fill="#ececec"/>
<rect x="564.6" y="978.4" width="23.6" height="2.8" fill="url(#p45)" stroke="#f2b68e" stroke-width="1"/>
<rect x="564.6" y="885.6" width="23.6" height="92.8" fill="#ececec"/>
<clipPath id="c37"><rect x="564.6" y="885.6" width="23.6" height="92.8"/></clipPath>
<path d="M463.96 979.4L558.76 884.6M467.68 979.4L562.48 884.6M471.4 979.4L566.2 884.6M475.12 979.4L569.92 884.6M478.84 979.4L573.64 884.6M482.56 979.4L577.36 884.6M486.28 979.4L581.08 884.6M490 979.4L584.8 884.6M493.72 979.4L588.52 884.6M497.44 979.4L592.24 884.6M501.16 979.4L595.96 884.6M504.88 979.4L599.68 884.6M508.6 979.4L603.4 884.6M512.32 979.4L607.12 884.6M516.04 979.4L610.84 884.6M519.76 979.4L614.56 884.6M523.48 979.4L618.28 884.6M527.2 979.4L622 884.6M530.92 979.4L625.72 884.6M534.64 979.4L629.44 884.6M538.36 979.4L633.16 884.6M542.08 979.4L636.88 884.6M545.8 979.4L640.6 884.6M549.52 979.4L644.32 884.6M553.24 979.4L648.04 884.6M556.96 979.4L651.76 884.6M560.68 979.4L655.48 884.6M564.4 979.4L659.2 884.6M568.12 979.4L662.92 884.6M571.84 979.4L666.64 884.6M575.56 979.4L670.36 884.6M579.28 979.4L674.08 884.6M583 979.4L677.8 884.6M586.72 979.4L681.52 884.6M590.44 979.4L685.24 884.6" stroke="#f2b68e" stroke-width="1.1" clip-path="url(#c37)"/>
<rect x="564.6" y="885.6" width="23.6" height="92.8" fill="none" stroke="#f2b68e" stroke-width="1"/>
<rect x="564.6" y="880.5" width="23.6" height="5.1" fill="#ececec"/>
<rect x="564.6" y="880.5" width="23.6" height="5.1" fill="url(#p46)" stroke="#f2b68e" stroke-width="1"/>
<rect x="564.6" y="871.5" width="23.6" height="9" fill="#ececec"/>
<rect x="564.6" y="871.5" width="23.6" height="9" fill="url(#p47)" stroke="#f2b68e" stroke-width="1"/>
<rect x="564.6" y="871.5" width="23.6" height="121.5" fill="none" stroke="#f2b68e" stroke-width="1.2"/>
<rect x="588.2" y="988.5" width="23.3" height="4.5" fill="#eca878"/>
<clipPath id="c38"><rect x="588.2" y="988.5" width="23.3" height="4.5"/></clipPath>
<path d="M563.6 994L570.1 987.5M575.4 994L581.9 987.5M587.2 994L593.7 987.5M599 994L605.5 987.5M610.8 994L617.3 987.5" stroke="#111" stroke-width="1.1" clip-path="url(#c38)"/>
<rect x="588.2" y="988.5" width="23.3" height="4.5" fill="none" stroke="#111" stroke-width="1"/>
<rect x="588.2" y="983.3" width="23.3" height="5.2" fill="#eca878"/>
<clipPath id="c39"><rect x="588.2" y="983.3" width="23.3" height="5.2"/></clipPath>
<path d="M569.3 982.3L576.5 989.5M581.1 982.3L588.3 989.5M592.9 982.3L600.1 989.5M604.7 982.3L611.9 989.5M616.5 982.3L623.7 989.5" stroke="#111" stroke-width="1.1" clip-path="url(#c39)"/>
<rect x="588.2" y="983.3" width="23.3" height="5.2" fill="none" stroke="#111" stroke-width="1"/>
<rect x="588.2" y="979.2" width="23.3" height="4.1" fill="#eca878"/>
<rect x="588.2" y="979.2" width="23.3" height="4.1" fill="url(#p48)" stroke="#111" stroke-width="1"/>
<rect x="588.2" y="974" width="23.3" height="5.2" fill="#eca878"/>
<rect x="588.2" y="974" width="23.3" height="5.2" fill="url(#p49)" stroke="#111" stroke-width="1"/>
<rect x="588.2" y="885.6" width="23.3" height="88.4" fill="#eca878"/>
<clipPath id="c40"><rect x="588.2" y="885.6" width="23.3" height="88.4"/></clipPath>
<path d="M494.4 975L584.8 884.6M498.12 975L588.52 884.6M501.84 975L592.24 884.6M505.56 975L595.96 884.6M509.28 975L599.68 884.6M513 975L603.4 884.6M516.72 975L607.12 884.6M520.44 975L610.84 884.6M524.16 975L614.56 884.6M527.88 975L618.28 884.6M531.6 975L622 884.6M535.32 975L625.72 884.6M539.04 975L629.44 884.6M542.76 975L633.16 884.6M546.48 975L636.88 884.6M550.2 975L640.6 884.6M553.92 975L644.32 884.6M557.64 975L648.04 884.6M561.36 975L651.76 884.6M565.08 975L655.48 884.6M568.8 975L659.2 884.6M572.52 975L662.92 884.6M576.24 975L666.64 884.6M579.96 975L670.36 884.6M583.68 975L674.08 884.6M587.4 975L677.8 884.6M591.12 975L681.52 884.6M594.84 975L685.24 884.6M598.56 975L688.96 884.6M602.28 975L692.68 884.6M606 975L696.4 884.6M609.72 975L700.12 884.6M613.44 975L703.84 884.6" stroke="#111" stroke-width="1.1" clip-path="url(#c40)"/>
<rect x="588.2" y="885.6" width="23.3" height="88.4" fill="none" stroke="#111" stroke-width="1"/>
<rect x="588.2" y="885" width="23.3" height="0.6" fill="#eca878"/>
<rect x="588.2" y="885" width="23.3" height="0.6" fill="url(#p50)" stroke="#111" stroke-width="1"/>
<rect x="588.2" y="874.7" width="23.3" height="10.3" fill="#eca878"/>
<rect x="588.2" y="874.7" width="23.3" height="10.3" fill="url(#p51)" stroke="#111" stroke-width="1"/>
<rect x="588.2" y="874.7" width="23.3" height="118.3" fill="none" stroke="#111" stroke-width="1.2"/>
<rect x="624.5" y="977.3" width="23.3" height="15.7" fill="#ececec"/>
<clipPath id="c41"><rect x="624.5" y="977.3" width="23.3" height="15.7"/></clipPath>
<path d="M587.2 994L604.9 976.3M599 994L616.7 976.3M610.8 994L628.5 976.3M622.6 994L640.3 976.3M634.4 994L652.1 976.3M646.2 994L663.9 976.3M658 994L675.7 976.3" stroke="#d8783a" stroke-width="1.1" clip-path="url(#c41)"/>
<rect x="624.5" y="977.3" width="23.3" height="15.7" fill="none" stroke="#d8783a" stroke-width="1"/>
<rect x="624.5" y="970.1" width="23.3" height="7.2" fill="#ececec"/>
<clipPath id="c42"><rect x="624.5" y="970.1" width="23.3" height="7.2"/></clipPath>
<path d="M603.3 969.1L612.5 978.3M615.1 969.1L624.3 978.3M626.9 969.1L636.1 978.3M638.7 969.1L647.9 978.3M650.5 969.1L659.7 978.3" stroke="#d8783a" stroke-width="1.1" clip-path="url(#c42)"/>
<rect x="624.5" y="970.1" width="23.3" height="7.2" fill="none" stroke="#d8783a" stroke-width="1"/>
<rect x="624.5" y="963.3" width="23.3" height="6.8" fill="#ececec"/>
<rect x="624.5" y="963.3" width="23.3" height="6.8" fill="url(#p52)" stroke="#d8783a" stroke-width="1"/>
<rect x="624.5" y="958.9" width="23.3" height="4.4" fill="#ececec"/>
<rect x="624.5" y="958.9" width="23.3" height="4.4" fill="url(#p53)" stroke="#d8783a" stroke-width="1"/>
<rect x="624.5" y="692.8" width="23.3" height="266.1" fill="#ececec"/>
<clipPath id="c43"><rect x="624.5" y="692.8" width="23.3" height="266.1"/></clipPath>
<path d="M353.26 959.9L621.36 691.8M356.98 959.9L625.08 691.8M360.7 959.9L628.8 691.8M364.42 959.9L632.52 691.8M368.14 959.9L636.24 691.8M371.86 959.9L639.96 691.8M375.58 959.9L643.68 691.8M379.3 959.9L647.4 691.8M383.02 959.9L651.12 691.8M386.74 959.9L654.84 691.8M390.46 959.9L658.56 691.8M394.18 959.9L662.28 691.8M397.9 959.9L666 691.8M401.62 959.9L669.72 691.8M405.34 959.9L673.44 691.8M409.06 959.9L677.16 691.8M412.78 959.9L680.88 691.8M416.5 959.9L684.6 691.8M420.22 959.9L688.32 691.8M423.94 959.9L692.04 691.8M427.66 959.9L695.76 691.8M431.38 959.9L699.48 691.8M435.1 959.9L703.2 691.8M438.82 959.9L706.92 691.8M442.54 959.9L710.64 691.8M446.26 959.9L714.36 691.8M449.98 959.9L718.08 691.8M453.7 959.9L721.8 691.8M457.42 959.9L725.52 691.8M461.14 959.9L729.24 691.8M464.86 959.9L732.96 691.8M468.58 959.9L736.68 691.8M472.3 959.9L740.4 691.8M476.02 959.9L744.12 691.8M479.74 959.9L747.84 691.8M483.46 959.9L751.56 691.8M487.18 959.9L755.28 691.8M490.9 959.9L759 691.8M494.62 959.9L762.72 691.8M498.34 959.9L766.44 691.8M502.06 959.9L770.16 691.8M505.78 959.9L773.88 691.8M509.5 959.9L777.6 691.8M513.22 959.9L781.32 691.8M516.94 959.9L785.04 691.8M520.66 959.9L788.76 691.8M524.38 959.9L792.48 691.8M528.1 959.9L796.2 691.8M531.82 959.9L799.92 691.8M535.54 959.9L803.64 691.8M539.26 959.9L807.36 691.8M542.98 959.9L811.08 691.8M546.7 959.9L814.8 691.8M550.42 959.9L818.52 691.8M554.14 959.9L822.24 691.8M557.86 959.9L825.96 691.8M561.58 959.9L829.68 691.8M565.3 959.9L833.4 691.8M569.02 959.9L837.12 691.8M572.74 959.9L840.84 691.8M576.46 959.9L844.56 691.8M580.18 959.9L848.28 691.8M583.9 959.9L852 691.8M587.62 959.9L855.72 691.8M591.34 959.9L859.44 691.8M595.06 959.9L863.16 691.8M598.78 959.9L866.88 691.8M602.5 959.9L870.6 691.8M606.22 959.9L874.32 691.8M609.94 959.9L878.04 691.8M613.66 959.9L881.76 691.8M617.38 959.9L885.48 691.8M621.1 959.9L889.2 691.8M624.82 959.9L892.92 691.8M628.54 959.9L896.64 691.8M632.26 959.9L900.36 691.8M635.98 959.9L904.08 691.8M639.7 959.9L907.8 691.8M643.42 959.9L911.52 691.8M647.14 959.9L915.24 691.8" stroke="#d8783a" stroke-width="1.1" clip-path="url(#c43)"/>
<rect x="624.5" y="692.8" width="23.3" height="266.1" fill="none" stroke="#d8783a" stroke-width="1"/>
<rect x="624.5" y="689.1" width="23.3" height="3.7" fill="#ececec"/>
<rect x="624.5" y="689.1" width="23.3" height="3.7" fill="url(#p54)" stroke="#d8783a" stroke-width="1"/>
<rect x="624.5" y="671" width="23.3" height="18.1" fill="#ececec"/>
<rect x="624.5" y="671" width="23.3" height="18.1" fill="url(#p55)" stroke="#d8783a" stroke-width="1"/>
<rect x="624.5" y="671" width="23.3" height="322" fill="none" stroke="#d8783a" stroke-width="1.2"/>
<rect x="647.8" y="972.9" width="23.5" height="20.1" fill="#d06a28"/>
<clipPath id="c44"><rect x="647.8" y="972.9" width="23.5" height="20.1"/></clipPath>
<path d="M610.8 994L632.9 971.9M622.6 994L644.7 971.9M634.4 994L656.5 971.9M646.2 994L668.3 971.9M658 994L680.1 971.9M669.8 994L691.9 971.9M681.6 994L703.7 971.9" stroke="#111" stroke-width="1.1" clip-path="url(#c44)"/>
<rect x="647.8" y="972.9" width="23.5" height="20.1" fill="none" stroke="#111" stroke-width="1"/>
<rect x="647.8" y="965.3" width="23.5" height="7.6" fill="#d06a28"/>
<clipPath id="c45"><rect x="647.8" y="965.3" width="23.5" height="7.6"/></clipPath>
<path d="M622.1 964.3L631.7 973.9M633.9 964.3L643.5 973.9M645.7 964.3L655.3 973.9M657.5 964.3L667.1 973.9M669.3 964.3L678.9 973.9M681.1 964.3L690.7 973.9" stroke="#111" stroke-width="1.1" clip-path="url(#c45)"/>
<rect x="647.8" y="965.3" width="23.5" height="7.6" fill="none" stroke="#111" stroke-width="1"/>
<rect x="647.8" y="958.5" width="23.5" height="6.8" fill="#d06a28"/>
<rect x="647.8" y="958.5" width="23.5" height="6.8" fill="url(#p56)" stroke="#111" stroke-width="1"/>
<rect x="647.8" y="952" width="23.5" height="6.5" fill="#d06a28"/>
<rect x="647.8" y="952" width="23.5" height="6.5" fill="url(#p57)" stroke="#111" stroke-width="1"/>
<rect x="647.8" y="686" width="23.5" height="266" fill="#d06a28"/>
<clipPath id="c46"><rect x="647.8" y="686" width="23.5" height="266"/></clipPath>
<path d="M375.04 953L643.04 685M378.76 953L646.76 685M382.48 953L650.48 685M386.2 953L654.2 685M389.92 953L657.92 685M393.64 953L661.64 685M397.36 953L665.36 685M401.08 953L669.08 685M404.8 953L672.8 685M408.52 953L676.52 685M412.24 953L680.24 685M415.96 953L683.96 685M419.68 953L687.68 685M423.4 953L691.4 685M427.12 953L695.12 685M430.84 953L698.84 685M434.56 953L702.56 685M438.28 953L706.28 685M442 953L710 685M445.72 953L713.72 685M449.44 953L717.44 685M453.16 953L721.16 685M456.88 953L724.88 685M460.6 953L728.6 685M464.32 953L732.32 685M468.04 953L736.04 685M471.76 953L739.76 685M475.48 953L743.48 685M479.2 953L747.2 685M482.92 953L750.92 685M486.64 953L754.64 685M490.36 953L758.36 685M494.08 953L762.08 685M497.8 953L765.8 685M501.52 953L769.52 685M505.24 953L773.24 685M508.96 953L776.96 685M512.68 953L780.68 685M516.4 953L784.4 685M520.12 953L788.12 685M523.84 953L791.84 685M527.56 953L795.56 685M531.28 953L799.28 685M535 953L803 685M538.72 953L806.72 685M542.44 953L810.44 685M546.16 953L814.16 685M549.88 953L817.88 685M553.6 953L821.6 685M557.32 953L825.32 685M561.04 953L829.04 685M564.76 953L832.76 685M568.48 953L836.48 685M572.2 953L840.2 685M575.92 953L843.92 685M579.64 953L847.64 685M583.36 953L851.36 685M587.08 953L855.08 685M590.8 953L858.8 685M594.52 953L862.52 685M598.24 953L866.24 685M601.96 953L869.96 685M605.68 953L873.68 685M609.4 953L877.4 685M613.12 953L881.12 685M616.84 953L884.84 685M620.56 953L888.56 685M624.28 953L892.28 685M628 953L896 685M631.72 953L899.72 685M635.44 953L903.44 685M639.16 953L907.16 685M642.88 953L910.88 685M646.6 953L914.6 685M650.32 953L918.32 685M654.04 953L922.04 685M657.76 953L925.76 685M661.48 953L929.48 685M665.2 953L933.2 685M668.92 953L936.92 685M672.64 953L940.64 685" stroke="#111" stroke-width="1.1" clip-path="url(#c46)"/>
<rect x="647.8" y="686" width="23.5" height="266" fill="none" stroke="#111" stroke-width="1"/>
<rect x="647.8" y="684.2" width="23.5" height="1.8" fill="#111"/>
<rect x="647.8" y="669.8" width="23.5" height="14.4" fill="#d06a28"/>
<rect x="647.8" y="669.8" width="23.5" height="14.4" fill="url(#p58)" stroke="#111" stroke-width="1"/>
<rect x="647.8" y="669.8" width="23.5" height="323.2" fill="none" stroke="#111" stroke-width="1.2"/>
<line x1="84.5" y1="993" x2="685" y2="993" stroke="#222" stroke-width="1.3"/>
<path d="M124.1 993V999M183.3 993V999M279.3 993V999M338.7 993V999M433.6 993V999M493 993V999M588.2 993V999M647.8 993V999" stroke="#222" stroke-width="1.2"/>
<text x="158.1" y="1021.3" font-size="14.5" text-anchor="middle" fill="#111">Control Damaged</text>
<text x="312.4" y="1021.3" font-size="14.5" text-anchor="middle" fill="#111">Control Damaged</text>
<text x="467.3" y="1021.3" font-size="14.5" text-anchor="middle" fill="#111">Control Damaged</text>
<text x="622" y="1021.3" font-size="14.5" text-anchor="middle" fill="#111">Control Damaged</text>
<text x="154.6" y="1050.8" font-size="24.5" text-anchor="middle">Ambient</text>
<text x="292.6" y="1050.8" font-size="24.5">O<tspan font-size="17" dy="7.3">3</tspan></text>
<text x="464.8" y="1050.8" font-size="24.5" text-anchor="middle">D</text>
<text x="590.6" y="1050.8" font-size="24.5">D+O<tspan font-size="17" dy="7.3">3</tspan></text>
</svg>
</body></html>
